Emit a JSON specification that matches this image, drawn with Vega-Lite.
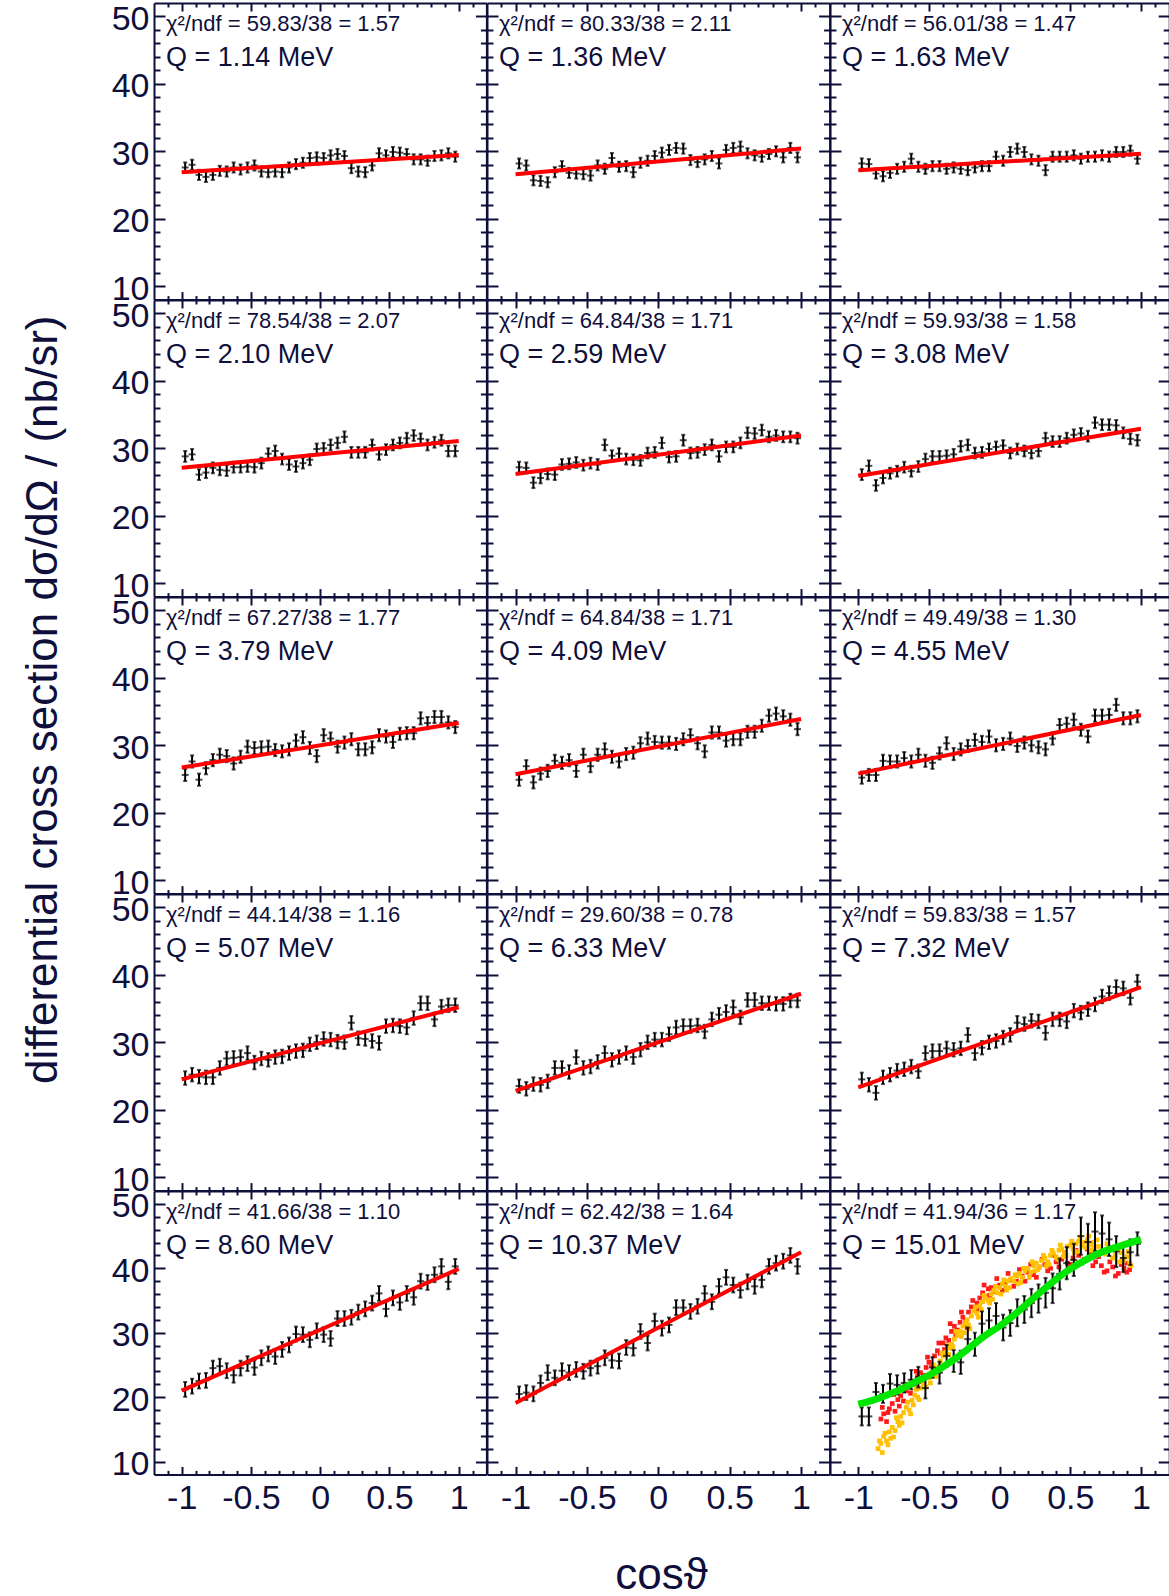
{
"$schema":"https://vega.github.io/schema/vega-lite/v6.json",
"background":"white",
"padding":{"left":22,"top":2,"right":0,"bottom":0},
"title":{"text":"differential cross section dσ/dΩ / (nb/sr)","orient":"left","anchor":"middle","frame":"bounds","offset":45,"dx":100,"fontSize":44,"fontWeight":"normal","color":"#0f0f3c","font":"Liberation Sans"},
"config":{
"view":{"stroke":null},
"font":"Liberation Sans",
"axis":{"domainColor":"#0f0f3c","domainWidth":2,"tickColor":"#0f0f3c","tickWidth":2,"labelColor":"#0f0f3c","labelFont":"Liberation Sans","labelFontSize":34,"grid":false,"labelFlush":false,"labelOverlap":false,"titleColor":"#0f0f3c","titleFont":"Liberation Sans","titleFontSize":44,"titleFontWeight":"normal"},
"axisX":{"tickSize":-8},
"axisY":{"tickSize":-11},
"axisBottom":{"labelPadding":15,"labelBaseline":"top"},
"axisLeft":{"labelPadding":16,"labelBaseline":"middle","labelOffset":3},
"title":{"anchor":"start","frame":"group","font":"Liberation Sans","fontSize":22,"fontWeight":"normal","color":"#0f0f3c","subtitleFont":"Liberation Sans","subtitleFontSize":27,"subtitleColor":"#0f0f3c","subtitlePadding":9,"offset":-70,"dx":12}
},
"datasets":{
"fit":[
{"p":1,"x":-1,"y":26.9},{"p":1,"x":1,"y":29.45},
{"p":2,"x":-1,"y":26.6},{"p":2,"x":1,"y":30.4},
{"p":3,"x":-1,"y":27.2},{"p":3,"x":1,"y":29.65},
{"p":4,"x":-1,"y":27.1},{"p":4,"x":1,"y":31.1},
{"p":5,"x":-1,"y":26.2},{"p":5,"x":1,"y":31.9},
{"p":6,"x":-1,"y":25.9},{"p":6,"x":1,"y":32.9},
{"p":7,"x":-1,"y":26.7},{"p":7,"x":1,"y":33.3},
{"p":8,"x":-1,"y":25.7},{"p":8,"x":1,"y":33.9},
{"p":9,"x":-1,"y":25.8},{"p":9,"x":1,"y":34.5},
{"p":10,"x":-1,"y":24.5},{"p":10,"x":1,"y":35.2},
{"p":11,"x":-1,"y":22.8},{"p":11,"x":1,"y":37.2},
{"p":12,"x":-1,"y":23.3},{"p":12,"x":1,"y":38.2},
{"p":13,"x":-1,"y":21.0},{"p":13,"x":1,"y":39.9},
{"p":14,"x":-1,"y":19.1},{"p":14,"x":1,"y":42.5}
],
"curve":[
{"x":-1.0,"y":18.9},{"x":-0.9,"y":19.5},{"x":-0.8,"y":20.3},{"x":-0.7,"y":21.2},{"x":-0.6,"y":22.3},{"x":-0.5,"y":23.4},{"x":-0.4,"y":24.7},{"x":-0.3,"y":26.2},{"x":-0.2,"y":27.9},{"x":-0.1,"y":29.6},{"x":0.0,"y":31.0},{"x":0.1,"y":32.7},{"x":0.2,"y":34.6},{"x":0.3,"y":36.5},{"x":0.4,"y":38.3},{"x":0.5,"y":39.9},{"x":0.6,"y":41.2},{"x":0.7,"y":42.3},{"x":0.8,"y":43.1},{"x":0.9,"y":43.8},{"x":1.0,"y":44.5}
],
"sim":[
{"g":"r","x":-0.84,"y":16.6},{"g":"r","x":-0.82,"y":17.4},{"g":"r","x":-0.8,"y":16.2},{"g":"r","x":-0.78,"y":18.2},{"g":"r","x":-0.76,"y":19.0},{"g":"r","x":-0.74,"y":17.8},{"g":"r","x":-0.72,"y":19.6},{"g":"r","x":-0.7,"y":20.2},{"g":"r","x":-0.68,"y":19.4},{"g":"r","x":-0.66,"y":21.0},{"g":"r","x":-0.64,"y":21.6},{"g":"r","x":-0.62,"y":22.4},{"g":"r","x":-0.6,"y":22.0},{"g":"r","x":-0.58,"y":23.2},{"g":"r","x":-0.56,"y":23.8},{"g":"r","x":-0.54,"y":23.4},{"g":"r","x":-0.52,"y":24.6},{"g":"r","x":-0.5,"y":25.4},{"g":"r","x":-0.48,"y":25.0},{"g":"r","x":-0.46,"y":26.4},{"g":"r","x":-0.44,"y":27.2},{"g":"r","x":-0.42,"y":26.8},{"g":"r","x":-0.4,"y":28.4},{"g":"r","x":-0.38,"y":29.2},{"g":"r","x":-0.36,"y":28.8},{"g":"r","x":-0.34,"y":30.2},{"g":"r","x":-0.32,"y":31.0},{"g":"r","x":-0.3,"y":30.4},{"g":"r","x":-0.28,"y":31.6},{"g":"r","x":-0.26,"y":32.4},{"g":"r","x":-0.24,"y":31.8},{"g":"r","x":-0.22,"y":33.2},{"g":"r","x":-0.2,"y":34.0},{"g":"r","x":-0.18,"y":33.4},{"g":"r","x":-0.16,"y":34.6},{"g":"r","x":-0.14,"y":35.4},{"g":"r","x":-0.12,"y":36.2},{"g":"r","x":-0.1,"y":35.6},{"g":"r","x":-0.08,"y":36.8},{"g":"r","x":-0.06,"y":37.0},{"g":"r","x":-0.04,"y":36.4},{"g":"r","x":0.0,"y":37.4},{"g":"r","x":0.04,"y":37.8},{"g":"r","x":0.08,"y":38.2},{"g":"r","x":0.12,"y":38.0},{"g":"r","x":0.16,"y":38.8},{"g":"r","x":0.2,"y":39.4},{"g":"r","x":0.24,"y":39.0},{"g":"r","x":0.28,"y":40.2},{"g":"r","x":0.32,"y":40.6},{"g":"r","x":0.36,"y":40.0},{"g":"r","x":0.4,"y":41.0},{"g":"r","x":0.44,"y":41.4},{"g":"r","x":0.48,"y":40.8},{"g":"r","x":0.52,"y":41.6},{"g":"r","x":0.56,"y":42.0},{"g":"r","x":0.6,"y":41.4},{"g":"r","x":0.64,"y":42.2},{"g":"r","x":0.68,"y":41.0},{"g":"r","x":0.72,"y":40.4},{"g":"r","x":0.76,"y":39.6},{"g":"r","x":0.8,"y":40.2},{"g":"r","x":0.84,"y":39.2},{"g":"r","x":0.88,"y":40.0},{"g":"r","x":0.9,"y":39.4},
{"g":"r","x":-0.83,"y":18.4},{"g":"r","x":-0.79,"y":17.6},{"g":"r","x":-0.75,"y":20.4},{"g":"r","x":-0.71,"y":18.6},{"g":"r","x":-0.67,"y":21.8},{"g":"r","x":-0.63,"y":20.6},{"g":"r","x":-0.59,"y":24.0},{"g":"r","x":-0.55,"y":22.4},{"g":"r","x":-0.51,"y":26.2},{"g":"r","x":-0.47,"y":24.2},{"g":"r","x":-0.43,"y":28.4},{"g":"r","x":-0.39,"y":27.4},{"g":"r","x":-0.35,"y":31.4},{"g":"r","x":-0.31,"y":29.6},{"g":"r","x":-0.27,"y":33.2},{"g":"r","x":-0.23,"y":30.8},{"g":"r","x":-0.19,"y":35.0},{"g":"r","x":-0.15,"y":33.6},{"g":"r","x":-0.11,"y":37.4},{"g":"r","x":-0.07,"y":35.8},{"g":"r","x":-0.02,"y":38.4},{"g":"r","x":0.02,"y":36.6},{"g":"r","x":0.06,"y":39.2},{"g":"r","x":0.1,"y":37.2},{"g":"r","x":0.14,"y":39.8},{"g":"r","x":0.18,"y":38.0},{"g":"r","x":0.22,"y":40.6},{"g":"r","x":0.26,"y":38.6},{"g":"r","x":0.3,"y":41.4},{"g":"r","x":0.34,"y":39.6},{"g":"r","x":0.38,"y":42.0},{"g":"r","x":0.42,"y":40.2},{"g":"r","x":0.46,"y":42.4},{"g":"r","x":0.5,"y":40.6},{"g":"r","x":0.54,"y":42.8},{"g":"r","x":0.58,"y":40.8},{"g":"r","x":0.62,"y":43.0},{"g":"r","x":0.66,"y":40.4},{"g":"r","x":0.7,"y":41.8},{"g":"r","x":0.74,"y":39.4},{"g":"r","x":0.78,"y":41.0},{"g":"r","x":0.82,"y":38.8},{"g":"r","x":0.86,"y":40.6},{"g":"r","x":0.9,"y":40.8},{"g":"r","x":0.92,"y":39.8},
{"g":"o","x":-0.86,"y":12.0},{"g":"o","x":-0.84,"y":12.8},{"g":"o","x":-0.83,"y":11.4},{"g":"o","x":-0.82,"y":13.9},{"g":"o","x":-0.8,"y":13.2},{"g":"o","x":-0.79,"y":12.6},{"g":"o","x":-0.78,"y":14.6},{"g":"o","x":-0.76,"y":15.3},{"g":"o","x":-0.75,"y":13.8},{"g":"o","x":-0.74,"y":14.8},{"g":"o","x":-0.72,"y":16.2},{"g":"o","x":-0.71,"y":15.6},{"g":"o","x":-0.7,"y":17.0},{"g":"o","x":-0.68,"y":17.6},{"g":"o","x":-0.66,"y":18.4},{"g":"o","x":-0.64,"y":18.0},{"g":"o","x":-0.62,"y":19.5},{"g":"o","x":-0.61,"y":18.8},{"g":"o","x":-0.6,"y":20.3},{"g":"o","x":-0.58,"y":20.0},{"g":"o","x":-0.56,"y":21.4},{"g":"o","x":-0.54,"y":22.0},{"g":"o","x":-0.52,"y":21.6},{"g":"o","x":-0.5,"y":23.0},{"g":"o","x":-0.48,"y":23.8},{"g":"o","x":-0.46,"y":24.4},{"g":"o","x":-0.45,"y":23.2},{"g":"o","x":-0.44,"y":24.0},{"g":"o","x":-0.42,"y":25.6},{"g":"o","x":-0.4,"y":26.4},{"g":"o","x":-0.38,"y":27.0},{"g":"o","x":-0.36,"y":26.6},{"g":"o","x":-0.35,"y":27.6},{"g":"o","x":-0.34,"y":28.2},{"g":"o","x":-0.32,"y":29.0},{"g":"o","x":-0.3,"y":29.6},{"g":"o","x":-0.28,"y":30.2},{"g":"o","x":-0.26,"y":31.0},{"g":"o","x":-0.25,"y":30.0},{"g":"o","x":-0.24,"y":31.6},{"g":"o","x":-0.22,"y":31.2},{"g":"o","x":-0.2,"y":32.6},{"g":"o","x":-0.18,"y":33.4},{"g":"o","x":-0.16,"y":33.0},{"g":"o","x":-0.15,"y":32.4},{"g":"o","x":-0.14,"y":34.2},{"g":"o","x":-0.12,"y":34.8},{"g":"o","x":-0.1,"y":35.4},{"g":"o","x":-0.08,"y":35.0},{"g":"o","x":-0.06,"y":36.0},{"g":"o","x":-0.05,"y":35.2},{"g":"o","x":-0.04,"y":36.6},{"g":"o","x":-0.02,"y":36.2},{"g":"o","x":0.0,"y":37.0},{"g":"o","x":0.02,"y":37.6},{"g":"o","x":0.04,"y":37.2},{"g":"o","x":0.05,"y":36.6},{"g":"o","x":0.06,"y":38.0},{"g":"o","x":0.08,"y":38.4},{"g":"o","x":0.1,"y":38.0},{"g":"o","x":0.12,"y":38.8},{"g":"o","x":0.14,"y":39.2},{"g":"o","x":0.15,"y":37.8},{"g":"o","x":0.16,"y":38.6},{"g":"o","x":0.18,"y":39.6},{"g":"o","x":0.2,"y":40.0},{"g":"o","x":0.22,"y":39.4},{"g":"o","x":0.24,"y":40.4},{"g":"o","x":0.25,"y":39.6},{"g":"o","x":0.26,"y":40.8},{"g":"o","x":0.28,"y":40.2},{"g":"o","x":0.3,"y":41.2},{"g":"o","x":0.32,"y":41.6},{"g":"o","x":0.34,"y":41.0},{"g":"o","x":0.35,"y":40.6},{"g":"o","x":0.36,"y":42.0},{"g":"o","x":0.38,"y":42.4},{"g":"o","x":0.4,"y":41.8},{"g":"o","x":0.42,"y":42.8},{"g":"o","x":0.44,"y":43.0},{"g":"o","x":0.45,"y":41.8},{"g":"o","x":0.46,"y":42.4},{"g":"o","x":0.48,"y":43.4},{"g":"o","x":0.5,"y":43.6},{"g":"o","x":0.52,"y":43.0},{"g":"o","x":0.54,"y":43.8},{"g":"o","x":0.55,"y":42.6},{"g":"o","x":0.56,"y":44.2},{"g":"o","x":0.58,"y":43.4},{"g":"o","x":0.6,"y":44.0},{"g":"o","x":0.62,"y":44.4},{"g":"o","x":0.64,"y":43.6},{"g":"o","x":0.65,"y":42.8},{"g":"o","x":0.66,"y":44.0},{"g":"o","x":0.7,"y":43.4},{"g":"o","x":0.74,"y":42.8},{"g":"o","x":0.75,"y":42.2},{"g":"o","x":0.78,"y":43.2},{"g":"o","x":0.82,"y":42.0},{"g":"o","x":0.85,"y":41.0},{"g":"o","x":0.86,"y":42.4},{"g":"o","x":0.88,"y":41.2},{"g":"o","x":0.9,"y":41.8},{"g":"o","x":0.92,"y":40.8},
{"g":"o","x":-0.85,"y":13.2},{"g":"o","x":-0.81,"y":14.4},{"g":"o","x":-0.77,"y":13.6},{"g":"o","x":-0.73,"y":16.8},{"g":"o","x":-0.69,"y":16.0},{"g":"o","x":-0.65,"y":19.2},{"g":"o","x":-0.63,"y":17.4},{"g":"o","x":-0.59,"y":21.2},{"g":"o","x":-0.57,"y":19.6},{"g":"o","x":-0.53,"y":23.0},{"g":"o","x":-0.49,"y":22.2},{"g":"o","x":-0.47,"y":25.0},{"g":"o","x":-0.43,"y":24.8},{"g":"o","x":-0.41,"y":26.8},{"g":"o","x":-0.37,"y":28.0},{"g":"o","x":-0.33,"y":27.8},{"g":"o","x":-0.31,"y":30.2},{"g":"o","x":-0.27,"y":29.4},{"g":"o","x":-0.23,"y":32.0},{"g":"o","x":-0.21,"y":30.6},{"g":"o","x":-0.17,"y":34.0},{"g":"o","x":-0.13,"y":33.6},{"g":"o","x":-0.11,"y":35.8},{"g":"o","x":-0.07,"y":34.6},{"g":"o","x":-0.03,"y":37.2},{"g":"o","x":0.01,"y":36.0},{"g":"o","x":0.03,"y":38.2},{"g":"o","x":0.07,"y":37.0},{"g":"o","x":0.11,"y":39.0},{"g":"o","x":0.13,"y":37.6},{"g":"o","x":0.17,"y":40.0},{"g":"o","x":0.21,"y":38.6},{"g":"o","x":0.23,"y":41.0},{"g":"o","x":0.27,"y":39.8},{"g":"o","x":0.31,"y":42.0},{"g":"o","x":0.33,"y":40.4},{"g":"o","x":0.37,"y":42.8},{"g":"o","x":0.41,"y":41.4},{"g":"o","x":0.43,"y":43.6},{"g":"o","x":0.47,"y":42.0},{"g":"o","x":0.51,"y":44.2},{"g":"o","x":0.53,"y":42.4},{"g":"o","x":0.57,"y":44.8},{"g":"o","x":0.61,"y":43.2},{"g":"o","x":0.63,"y":45.0},{"g":"o","x":0.67,"y":43.2},{"g":"o","x":0.69,"y":44.4},{"g":"o","x":0.72,"y":42.4},{"g":"o","x":0.76,"y":43.8},{"g":"o","x":0.8,"y":41.6},{"g":"o","x":0.84,"y":43.0},{"g":"o","x":0.87,"y":41.4},{"g":"o","x":0.91,"y":42.6},{"g":"o","x":0.93,"y":40.4}
],
"pts":[
{"p":1,"x":-0.975,"y":27.6,"e":0.75},{"p":1,"x":-0.925,"y":28.0,"e":0.75},{"p":1,"x":-0.875,"y":26.5,"e":0.75},{"p":1,"x":-0.825,"y":26.2,"e":0.75},{"p":1,"x":-0.775,"y":26.5,"e":0.75},{"p":1,"x":-0.725,"y":27.1,"e":0.75},{"p":1,"x":-0.675,"y":27.0,"e":0.75},{"p":1,"x":-0.625,"y":27.6,"e":0.75},{"p":1,"x":-0.575,"y":27.3,"e":0.75},{"p":1,"x":-0.525,"y":27.6,"e":0.75},{"p":1,"x":-0.475,"y":27.9,"e":0.75},{"p":1,"x":-0.425,"y":27.0,"e":0.75},{"p":1,"x":-0.375,"y":26.9,"e":0.75},{"p":1,"x":-0.325,"y":27.0,"e":0.75},{"p":1,"x":-0.275,"y":26.9,"e":0.75},{"p":1,"x":-0.225,"y":27.6,"e":0.75},{"p":1,"x":-0.175,"y":28.1,"e":0.75},{"p":1,"x":-0.125,"y":28.3,"e":0.75},{"p":1,"x":-0.075,"y":29.0,"e":0.75},{"p":1,"x":-0.025,"y":29.1,"e":0.75},{"p":1,"x":0.025,"y":29.0,"e":0.75},{"p":1,"x":0.075,"y":29.4,"e":0.75},{"p":1,"x":0.125,"y":29.6,"e":0.75},{"p":1,"x":0.175,"y":29.3,"e":0.75},{"p":1,"x":0.225,"y":27.5,"e":0.75},{"p":1,"x":0.275,"y":27.0,"e":0.75},{"p":1,"x":0.325,"y":26.9,"e":0.75},{"p":1,"x":0.375,"y":27.9,"e":0.75},{"p":1,"x":0.425,"y":29.7,"e":0.75},{"p":1,"x":0.475,"y":29.4,"e":0.75},{"p":1,"x":0.525,"y":29.9,"e":0.75},{"p":1,"x":0.575,"y":29.8,"e":0.75},{"p":1,"x":0.625,"y":29.6,"e":0.75},{"p":1,"x":0.675,"y":28.8,"e":0.75},{"p":1,"x":0.725,"y":28.8,"e":0.75},{"p":1,"x":0.775,"y":28.6,"e":0.75},{"p":1,"x":0.825,"y":29.3,"e":0.75},{"p":1,"x":0.875,"y":29.4,"e":0.75},{"p":1,"x":0.925,"y":29.7,"e":0.75},{"p":1,"x":0.975,"y":29.2,"e":0.75},
{"p":2,"x":-0.975,"y":28.2,"e":0.75},{"p":2,"x":-0.925,"y":27.9,"e":0.75},{"p":2,"x":-0.875,"y":25.7,"e":0.75},{"p":2,"x":-0.825,"y":25.6,"e":0.75},{"p":2,"x":-0.775,"y":25.4,"e":0.75},{"p":2,"x":-0.725,"y":26.9,"e":0.75},{"p":2,"x":-0.675,"y":27.8,"e":0.75},{"p":2,"x":-0.625,"y":26.8,"e":0.75},{"p":2,"x":-0.575,"y":26.7,"e":0.75},{"p":2,"x":-0.525,"y":26.6,"e":0.75},{"p":2,"x":-0.475,"y":26.4,"e":0.75},{"p":2,"x":-0.425,"y":27.9,"e":0.75},{"p":2,"x":-0.375,"y":27.4,"e":0.75},{"p":2,"x":-0.325,"y":29.0,"e":0.75},{"p":2,"x":-0.275,"y":27.7,"e":0.75},{"p":2,"x":-0.225,"y":27.8,"e":0.75},{"p":2,"x":-0.175,"y":26.9,"e":0.75},{"p":2,"x":-0.125,"y":28.3,"e":0.75},{"p":2,"x":-0.075,"y":28.6,"e":0.75},{"p":2,"x":-0.025,"y":29.3,"e":0.75},{"p":2,"x":0.025,"y":29.8,"e":0.75},{"p":2,"x":0.075,"y":30.2,"e":0.75},{"p":2,"x":0.125,"y":30.5,"e":0.75},{"p":2,"x":0.175,"y":30.4,"e":0.75},{"p":2,"x":0.225,"y":28.7,"e":0.75},{"p":2,"x":0.275,"y":28.4,"e":0.75},{"p":2,"x":0.325,"y":28.8,"e":0.75},{"p":2,"x":0.375,"y":29.3,"e":0.75},{"p":2,"x":0.425,"y":28.2,"e":0.75},{"p":2,"x":0.475,"y":30.2,"e":0.75},{"p":2,"x":0.525,"y":30.5,"e":0.75},{"p":2,"x":0.575,"y":30.7,"e":0.75},{"p":2,"x":0.625,"y":29.7,"e":0.75},{"p":2,"x":0.675,"y":29.4,"e":0.75},{"p":2,"x":0.725,"y":29.2,"e":0.75},{"p":2,"x":0.775,"y":29.6,"e":0.75},{"p":2,"x":0.825,"y":30.0,"e":0.75},{"p":2,"x":0.875,"y":29.1,"e":0.75},{"p":2,"x":0.925,"y":30.5,"e":0.75},{"p":2,"x":0.975,"y":29.1,"e":0.75},
{"p":3,"x":-0.975,"y":28.2,"e":0.75},{"p":3,"x":-0.925,"y":28.1,"e":0.75},{"p":3,"x":-0.875,"y":26.7,"e":0.75},{"p":3,"x":-0.825,"y":26.3,"e":0.75},{"p":3,"x":-0.775,"y":26.8,"e":0.75},{"p":3,"x":-0.725,"y":27.4,"e":0.75},{"p":3,"x":-0.675,"y":27.7,"e":0.75},{"p":3,"x":-0.625,"y":28.9,"e":0.75},{"p":3,"x":-0.575,"y":27.7,"e":0.75},{"p":3,"x":-0.525,"y":27.4,"e":0.75},{"p":3,"x":-0.475,"y":27.8,"e":0.75},{"p":3,"x":-0.425,"y":27.8,"e":0.75},{"p":3,"x":-0.375,"y":27.4,"e":0.75},{"p":3,"x":-0.325,"y":27.6,"e":0.75},{"p":3,"x":-0.275,"y":27.4,"e":0.75},{"p":3,"x":-0.225,"y":27.2,"e":0.75},{"p":3,"x":-0.175,"y":27.6,"e":0.75},{"p":3,"x":-0.125,"y":27.8,"e":0.75},{"p":3,"x":-0.075,"y":27.8,"e":0.75},{"p":3,"x":-0.025,"y":29.2,"e":0.75},{"p":3,"x":0.025,"y":28.6,"e":0.75},{"p":3,"x":0.075,"y":29.9,"e":0.75},{"p":3,"x":0.125,"y":30.4,"e":0.75},{"p":3,"x":0.175,"y":29.9,"e":0.75},{"p":3,"x":0.225,"y":28.8,"e":0.75},{"p":3,"x":0.275,"y":28.6,"e":0.75},{"p":3,"x":0.325,"y":27.2,"e":0.75},{"p":3,"x":0.375,"y":29.2,"e":0.75},{"p":3,"x":0.425,"y":29.2,"e":0.75},{"p":3,"x":0.475,"y":29.2,"e":0.75},{"p":3,"x":0.525,"y":29.4,"e":0.75},{"p":3,"x":0.575,"y":28.9,"e":0.75},{"p":3,"x":0.625,"y":29.2,"e":0.75},{"p":3,"x":0.675,"y":29.2,"e":0.75},{"p":3,"x":0.725,"y":29.4,"e":0.75},{"p":3,"x":0.775,"y":29.2,"e":0.75},{"p":3,"x":0.825,"y":29.9,"e":0.75},{"p":3,"x":0.875,"y":29.9,"e":0.75},{"p":3,"x":0.925,"y":30.1,"e":0.75},{"p":3,"x":0.975,"y":28.9,"e":0.75},
{"p":4,"x":-0.975,"y":28.8,"e":0.8},{"p":4,"x":-0.925,"y":29.1,"e":0.8},{"p":4,"x":-0.875,"y":26.1,"e":0.8},{"p":4,"x":-0.825,"y":26.4,"e":0.8},{"p":4,"x":-0.775,"y":27.1,"e":0.8},{"p":4,"x":-0.725,"y":26.8,"e":0.8},{"p":4,"x":-0.675,"y":26.7,"e":0.8},{"p":4,"x":-0.625,"y":27.2,"e":0.8},{"p":4,"x":-0.575,"y":27.2,"e":0.8},{"p":4,"x":-0.525,"y":27.3,"e":0.8},{"p":4,"x":-0.475,"y":27.2,"e":0.8},{"p":4,"x":-0.425,"y":27.8,"e":0.8},{"p":4,"x":-0.375,"y":29.2,"e":0.8},{"p":4,"x":-0.325,"y":29.6,"e":0.8},{"p":4,"x":-0.275,"y":28.4,"e":0.8},{"p":4,"x":-0.225,"y":27.6,"e":0.8},{"p":4,"x":-0.175,"y":27.3,"e":0.8},{"p":4,"x":-0.125,"y":27.8,"e":0.8},{"p":4,"x":-0.075,"y":28.3,"e":0.8},{"p":4,"x":-0.025,"y":29.9,"e":0.8},{"p":4,"x":0.025,"y":30.0,"e":0.8},{"p":4,"x":0.075,"y":30.5,"e":0.8},{"p":4,"x":0.125,"y":30.8,"e":0.8},{"p":4,"x":0.175,"y":31.7,"e":0.8},{"p":4,"x":0.225,"y":29.4,"e":0.8},{"p":4,"x":0.275,"y":29.4,"e":0.8},{"p":4,"x":0.325,"y":29.4,"e":0.8},{"p":4,"x":0.375,"y":30.5,"e":0.8},{"p":4,"x":0.425,"y":29.1,"e":0.8},{"p":4,"x":0.475,"y":29.8,"e":0.8},{"p":4,"x":0.525,"y":30.5,"e":0.8},{"p":4,"x":0.575,"y":30.8,"e":0.8},{"p":4,"x":0.625,"y":31.5,"e":0.8},{"p":4,"x":0.675,"y":31.9,"e":0.8},{"p":4,"x":0.725,"y":31.4,"e":0.8},{"p":4,"x":0.775,"y":30.5,"e":0.8},{"p":4,"x":0.825,"y":30.9,"e":0.8},{"p":4,"x":0.875,"y":31.2,"e":0.8},{"p":4,"x":0.925,"y":29.6,"e":0.8},{"p":4,"x":0.975,"y":29.6,"e":0.8},
{"p":5,"x":-0.975,"y":27.2,"e":0.8},{"p":5,"x":-0.925,"y":27.1,"e":0.8},{"p":5,"x":-0.875,"y":24.9,"e":0.8},{"p":5,"x":-0.825,"y":25.6,"e":0.8},{"p":5,"x":-0.775,"y":26.2,"e":0.8},{"p":5,"x":-0.725,"y":26.1,"e":0.8},{"p":5,"x":-0.675,"y":27.6,"e":0.8},{"p":5,"x":-0.625,"y":27.7,"e":0.8},{"p":5,"x":-0.575,"y":27.9,"e":0.8},{"p":5,"x":-0.525,"y":27.5,"e":0.8},{"p":5,"x":-0.475,"y":27.8,"e":0.8},{"p":5,"x":-0.425,"y":27.6,"e":0.8},{"p":5,"x":-0.375,"y":30.5,"e":0.8},{"p":5,"x":-0.325,"y":28.9,"e":0.8},{"p":5,"x":-0.275,"y":29.2,"e":0.8},{"p":5,"x":-0.225,"y":28.4,"e":0.8},{"p":5,"x":-0.175,"y":28.3,"e":0.8},{"p":5,"x":-0.125,"y":28.2,"e":0.8},{"p":5,"x":-0.075,"y":29.3,"e":0.8},{"p":5,"x":-0.025,"y":29.4,"e":0.8},{"p":5,"x":0.025,"y":30.8,"e":0.8},{"p":5,"x":0.075,"y":28.7,"e":0.8},{"p":5,"x":0.125,"y":28.8,"e":0.8},{"p":5,"x":0.175,"y":31.2,"e":0.8},{"p":5,"x":0.225,"y":29.3,"e":0.8},{"p":5,"x":0.275,"y":29.4,"e":0.8},{"p":5,"x":0.325,"y":29.8,"e":0.8},{"p":5,"x":0.375,"y":30.5,"e":0.8},{"p":5,"x":0.425,"y":28.8,"e":0.8},{"p":5,"x":0.475,"y":30.2,"e":0.8},{"p":5,"x":0.525,"y":30.2,"e":0.8},{"p":5,"x":0.575,"y":30.8,"e":0.8},{"p":5,"x":0.625,"y":32.3,"e":0.8},{"p":5,"x":0.675,"y":32.2,"e":0.8},{"p":5,"x":0.725,"y":32.7,"e":0.8},{"p":5,"x":0.775,"y":31.7,"e":0.8},{"p":5,"x":0.825,"y":31.9,"e":0.8},{"p":5,"x":0.875,"y":31.7,"e":0.8},{"p":5,"x":0.925,"y":31.7,"e":0.8},{"p":5,"x":0.975,"y":31.5,"e":0.8},
{"p":6,"x":-0.975,"y":26.1,"e":0.8},{"p":6,"x":-0.925,"y":27.4,"e":0.8},{"p":6,"x":-0.875,"y":24.5,"e":0.8},{"p":6,"x":-0.825,"y":25.6,"e":0.8},{"p":6,"x":-0.775,"y":26.3,"e":0.8},{"p":6,"x":-0.725,"y":26.6,"e":0.8},{"p":6,"x":-0.675,"y":27.2,"e":0.8},{"p":6,"x":-0.625,"y":26.6,"e":0.8},{"p":6,"x":-0.575,"y":27.3,"e":0.8},{"p":6,"x":-0.525,"y":28.4,"e":0.8},{"p":6,"x":-0.475,"y":28.8,"e":0.8},{"p":6,"x":-0.425,"y":28.8,"e":0.8},{"p":6,"x":-0.375,"y":28.9,"e":0.8},{"p":6,"x":-0.325,"y":29.1,"e":0.8},{"p":6,"x":-0.275,"y":30.3,"e":0.8},{"p":6,"x":-0.225,"y":30.5,"e":0.8},{"p":6,"x":-0.175,"y":29.3,"e":0.8},{"p":6,"x":-0.125,"y":29.4,"e":0.8},{"p":6,"x":-0.075,"y":29.9,"e":0.8},{"p":6,"x":-0.025,"y":30.2,"e":0.8},{"p":6,"x":0.025,"y":30.4,"e":0.8},{"p":6,"x":0.075,"y":29.3,"e":0.8},{"p":6,"x":0.125,"y":29.9,"e":0.8},{"p":6,"x":0.175,"y":29.6,"e":0.8},{"p":6,"x":0.225,"y":29.3,"e":0.8},{"p":6,"x":0.275,"y":29.6,"e":0.8},{"p":6,"x":0.325,"y":31.5,"e":0.8},{"p":6,"x":0.375,"y":31.0,"e":0.8},{"p":6,"x":0.425,"y":31.0,"e":0.8},{"p":6,"x":0.475,"y":31.5,"e":0.8},{"p":6,"x":0.525,"y":32.0,"e":0.8},{"p":6,"x":0.575,"y":32.2,"e":0.8},{"p":6,"x":0.625,"y":31.8,"e":0.8},{"p":6,"x":0.675,"y":33.8,"e":0.8},{"p":6,"x":0.725,"y":33.5,"e":0.8},{"p":6,"x":0.775,"y":33.5,"e":0.8},{"p":6,"x":0.825,"y":33.4,"e":0.8},{"p":6,"x":0.875,"y":32.3,"e":0.8},{"p":6,"x":0.925,"y":31.4,"e":0.8},{"p":6,"x":0.975,"y":31.2,"e":0.8},
{"p":7,"x":-0.975,"y":25.6,"e":0.9},{"p":7,"x":-0.925,"y":27.6,"e":0.9},{"p":7,"x":-0.875,"y":24.9,"e":0.9},{"p":7,"x":-0.825,"y":26.6,"e":0.9},{"p":7,"x":-0.775,"y":27.8,"e":0.9},{"p":7,"x":-0.725,"y":28.6,"e":0.9},{"p":7,"x":-0.675,"y":28.4,"e":0.9},{"p":7,"x":-0.625,"y":27.3,"e":0.9},{"p":7,"x":-0.575,"y":28.3,"e":0.9},{"p":7,"x":-0.525,"y":29.8,"e":0.9},{"p":7,"x":-0.475,"y":29.6,"e":0.9},{"p":7,"x":-0.425,"y":29.7,"e":0.9},{"p":7,"x":-0.375,"y":29.8,"e":0.9},{"p":7,"x":-0.325,"y":29.3,"e":0.9},{"p":7,"x":-0.275,"y":29.1,"e":0.9},{"p":7,"x":-0.225,"y":29.4,"e":0.9},{"p":7,"x":-0.175,"y":30.7,"e":0.9},{"p":7,"x":-0.125,"y":31.2,"e":0.9},{"p":7,"x":-0.075,"y":29.6,"e":0.9},{"p":7,"x":-0.025,"y":28.4,"e":0.9},{"p":7,"x":0.025,"y":31.5,"e":0.9},{"p":7,"x":0.075,"y":31.0,"e":0.9},{"p":7,"x":0.125,"y":29.8,"e":0.9},{"p":7,"x":0.175,"y":30.4,"e":0.9},{"p":7,"x":0.225,"y":30.9,"e":0.9},{"p":7,"x":0.275,"y":29.4,"e":0.9},{"p":7,"x":0.325,"y":29.4,"e":0.9},{"p":7,"x":0.375,"y":29.7,"e":0.9},{"p":7,"x":0.425,"y":31.5,"e":0.9},{"p":7,"x":0.475,"y":31.3,"e":0.9},{"p":7,"x":0.525,"y":30.5,"e":0.9},{"p":7,"x":0.575,"y":31.7,"e":0.9},{"p":7,"x":0.625,"y":31.8,"e":0.9},{"p":7,"x":0.675,"y":31.8,"e":0.9},{"p":7,"x":0.725,"y":34.0,"e":0.9},{"p":7,"x":0.775,"y":33.3,"e":0.9},{"p":7,"x":0.825,"y":34.2,"e":0.9},{"p":7,"x":0.875,"y":34.2,"e":0.9},{"p":7,"x":0.925,"y":33.4,"e":0.9},{"p":7,"x":0.975,"y":32.7,"e":0.9},
{"p":8,"x":-0.975,"y":24.9,"e":0.9},{"p":8,"x":-0.925,"y":26.9,"e":0.9},{"p":8,"x":-0.875,"y":24.5,"e":0.9},{"p":8,"x":-0.825,"y":25.8,"e":0.9},{"p":8,"x":-0.775,"y":26.2,"e":0.9},{"p":8,"x":-0.725,"y":27.7,"e":0.9},{"p":8,"x":-0.675,"y":27.4,"e":0.9},{"p":8,"x":-0.625,"y":27.8,"e":0.9},{"p":8,"x":-0.575,"y":26.2,"e":0.9},{"p":8,"x":-0.525,"y":28.6,"e":0.9},{"p":8,"x":-0.475,"y":26.9,"e":0.9},{"p":8,"x":-0.425,"y":28.6,"e":0.9},{"p":8,"x":-0.375,"y":29.4,"e":0.9},{"p":8,"x":-0.325,"y":28.3,"e":0.9},{"p":8,"x":-0.275,"y":27.6,"e":0.9},{"p":8,"x":-0.225,"y":28.7,"e":0.9},{"p":8,"x":-0.175,"y":28.9,"e":0.9},{"p":8,"x":-0.125,"y":30.3,"e":0.9},{"p":8,"x":-0.075,"y":31.0,"e":0.9},{"p":8,"x":-0.025,"y":30.5,"e":0.9},{"p":8,"x":0.025,"y":30.4,"e":0.9},{"p":8,"x":0.075,"y":30.4,"e":0.9},{"p":8,"x":0.125,"y":30.2,"e":0.9},{"p":8,"x":0.175,"y":30.9,"e":0.9},{"p":8,"x":0.225,"y":31.5,"e":0.9},{"p":8,"x":0.275,"y":30.3,"e":0.9},{"p":8,"x":0.325,"y":29.1,"e":0.9},{"p":8,"x":0.375,"y":31.9,"e":0.9},{"p":8,"x":0.425,"y":31.9,"e":0.9},{"p":8,"x":0.475,"y":30.7,"e":0.9},{"p":8,"x":0.525,"y":30.9,"e":0.9},{"p":8,"x":0.575,"y":30.9,"e":0.9},{"p":8,"x":0.625,"y":32.0,"e":0.9},{"p":8,"x":0.675,"y":32.0,"e":0.9},{"p":8,"x":0.725,"y":32.9,"e":0.9},{"p":8,"x":0.775,"y":34.4,"e":0.9},{"p":8,"x":0.825,"y":34.7,"e":0.9},{"p":8,"x":0.875,"y":34.3,"e":0.9},{"p":8,"x":0.925,"y":33.8,"e":0.9},{"p":8,"x":0.975,"y":32.4,"e":0.9},
{"p":9,"x":-0.975,"y":25.2,"e":0.9},{"p":9,"x":-0.925,"y":25.6,"e":0.9},{"p":9,"x":-0.875,"y":25.6,"e":0.9},{"p":9,"x":-0.825,"y":27.7,"e":0.9},{"p":9,"x":-0.775,"y":27.6,"e":0.9},{"p":9,"x":-0.725,"y":27.6,"e":0.9},{"p":9,"x":-0.675,"y":28.1,"e":0.9},{"p":9,"x":-0.625,"y":27.6,"e":0.9},{"p":9,"x":-0.575,"y":28.6,"e":0.9},{"p":9,"x":-0.525,"y":27.7,"e":0.9},{"p":9,"x":-0.475,"y":27.4,"e":0.9},{"p":9,"x":-0.425,"y":28.8,"e":0.9},{"p":9,"x":-0.375,"y":30.3,"e":0.9},{"p":9,"x":-0.325,"y":28.7,"e":0.9},{"p":9,"x":-0.275,"y":29.4,"e":0.9},{"p":9,"x":-0.225,"y":29.9,"e":0.9},{"p":9,"x":-0.175,"y":30.8,"e":0.9},{"p":9,"x":-0.125,"y":30.5,"e":0.9},{"p":9,"x":-0.075,"y":31.3,"e":0.9},{"p":9,"x":-0.025,"y":30.0,"e":0.9},{"p":9,"x":0.025,"y":30.2,"e":0.9},{"p":9,"x":0.075,"y":31.0,"e":0.9},{"p":9,"x":0.125,"y":29.9,"e":0.9},{"p":9,"x":0.175,"y":30.4,"e":0.9},{"p":9,"x":0.225,"y":30.0,"e":0.9},{"p":9,"x":0.275,"y":29.7,"e":0.9},{"p":9,"x":0.325,"y":29.4,"e":0.9},{"p":9,"x":0.375,"y":31.0,"e":0.9},{"p":9,"x":0.425,"y":33.0,"e":0.9},{"p":9,"x":0.475,"y":33.2,"e":0.9},{"p":9,"x":0.525,"y":33.8,"e":0.9},{"p":9,"x":0.575,"y":32.3,"e":0.9},{"p":9,"x":0.625,"y":31.3,"e":0.9},{"p":9,"x":0.675,"y":34.4,"e":0.9},{"p":9,"x":0.725,"y":34.4,"e":0.9},{"p":9,"x":0.775,"y":34.5,"e":0.9},{"p":9,"x":0.825,"y":36.0,"e":0.9},{"p":9,"x":0.875,"y":34.0,"e":0.9},{"p":9,"x":0.925,"y":34.0,"e":0.9},{"p":9,"x":0.975,"y":34.3,"e":0.9},
{"p":10,"x":-0.975,"y":24.7,"e":1.0},{"p":10,"x":-0.925,"y":25.2,"e":1.0},{"p":10,"x":-0.875,"y":24.9,"e":1.0},{"p":10,"x":-0.825,"y":24.8,"e":1.0},{"p":10,"x":-0.775,"y":24.8,"e":1.0},{"p":10,"x":-0.725,"y":26.2,"e":1.0},{"p":10,"x":-0.675,"y":27.6,"e":1.0},{"p":10,"x":-0.625,"y":27.7,"e":1.0},{"p":10,"x":-0.575,"y":27.8,"e":1.0},{"p":10,"x":-0.525,"y":28.4,"e":1.0},{"p":10,"x":-0.475,"y":27.0,"e":1.0},{"p":10,"x":-0.425,"y":27.6,"e":1.0},{"p":10,"x":-0.375,"y":27.4,"e":1.0},{"p":10,"x":-0.325,"y":27.8,"e":1.0},{"p":10,"x":-0.275,"y":27.9,"e":1.0},{"p":10,"x":-0.225,"y":28.4,"e":1.0},{"p":10,"x":-0.175,"y":28.7,"e":1.0},{"p":10,"x":-0.125,"y":28.8,"e":1.0},{"p":10,"x":-0.075,"y":29.7,"e":1.0},{"p":10,"x":-0.025,"y":30.0,"e":1.0},{"p":10,"x":0.025,"y":30.5,"e":1.0},{"p":10,"x":0.075,"y":30.4,"e":1.0},{"p":10,"x":0.125,"y":30.1,"e":1.0},{"p":10,"x":0.175,"y":30.0,"e":1.0},{"p":10,"x":0.225,"y":32.9,"e":1.0},{"p":10,"x":0.275,"y":30.6,"e":1.0},{"p":10,"x":0.325,"y":30.5,"e":1.0},{"p":10,"x":0.375,"y":30.2,"e":1.0},{"p":10,"x":0.425,"y":29.9,"e":1.0},{"p":10,"x":0.475,"y":32.4,"e":1.0},{"p":10,"x":0.525,"y":32.5,"e":1.0},{"p":10,"x":0.575,"y":32.4,"e":1.0},{"p":10,"x":0.625,"y":32.2,"e":1.0},{"p":10,"x":0.675,"y":33.6,"e":1.0},{"p":10,"x":0.725,"y":35.8,"e":1.0},{"p":10,"x":0.775,"y":35.8,"e":1.0},{"p":10,"x":0.825,"y":33.4,"e":1.0},{"p":10,"x":0.875,"y":35.3,"e":1.0},{"p":10,"x":0.925,"y":35.5,"e":1.0},{"p":10,"x":0.975,"y":35.5,"e":1.0},
{"p":11,"x":-0.975,"y":23.5,"e":1.0},{"p":11,"x":-0.925,"y":23.1,"e":1.0},{"p":11,"x":-0.875,"y":23.8,"e":1.0},{"p":11,"x":-0.825,"y":23.7,"e":1.0},{"p":11,"x":-0.775,"y":24.2,"e":1.0},{"p":11,"x":-0.725,"y":26.2,"e":1.0},{"p":11,"x":-0.675,"y":26.2,"e":1.0},{"p":11,"x":-0.625,"y":25.6,"e":1.0},{"p":11,"x":-0.575,"y":27.8,"e":1.0},{"p":11,"x":-0.525,"y":26.2,"e":1.0},{"p":11,"x":-0.475,"y":26.4,"e":1.0},{"p":11,"x":-0.425,"y":27.1,"e":1.0},{"p":11,"x":-0.375,"y":28.4,"e":1.0},{"p":11,"x":-0.325,"y":27.4,"e":1.0},{"p":11,"x":-0.275,"y":27.8,"e":1.0},{"p":11,"x":-0.225,"y":28.4,"e":1.0},{"p":11,"x":-0.175,"y":27.8,"e":1.0},{"p":11,"x":-0.125,"y":28.9,"e":1.0},{"p":11,"x":-0.075,"y":30.0,"e":1.0},{"p":11,"x":-0.025,"y":30.4,"e":1.0},{"p":11,"x":0.025,"y":30.4,"e":1.0},{"p":11,"x":0.075,"y":31.2,"e":1.0},{"p":11,"x":0.125,"y":32.2,"e":1.0},{"p":11,"x":0.175,"y":32.4,"e":1.0},{"p":11,"x":0.225,"y":32.4,"e":1.0},{"p":11,"x":0.275,"y":32.5,"e":1.0},{"p":11,"x":0.325,"y":31.6,"e":1.0},{"p":11,"x":0.375,"y":33.4,"e":1.0},{"p":11,"x":0.425,"y":34.1,"e":1.0},{"p":11,"x":0.475,"y":34.5,"e":1.0},{"p":11,"x":0.525,"y":35.2,"e":1.0},{"p":11,"x":0.575,"y":33.7,"e":1.0},{"p":11,"x":0.625,"y":36.3,"e":1.0},{"p":11,"x":0.675,"y":36.3,"e":1.0},{"p":11,"x":0.725,"y":35.8,"e":1.0},{"p":11,"x":0.775,"y":35.8,"e":1.0},{"p":11,"x":0.825,"y":35.7,"e":1.0},{"p":11,"x":0.875,"y":35.7,"e":1.0},{"p":11,"x":0.925,"y":36.2,"e":1.0},{"p":11,"x":0.975,"y":36.2,"e":1.0},
{"p":12,"x":-0.975,"y":24.5,"e":1.0},{"p":12,"x":-0.925,"y":23.7,"e":1.0},{"p":12,"x":-0.875,"y":22.5,"e":1.0},{"p":12,"x":-0.825,"y":24.8,"e":1.0},{"p":12,"x":-0.775,"y":25.2,"e":1.0},{"p":12,"x":-0.725,"y":25.8,"e":1.0},{"p":12,"x":-0.675,"y":26.0,"e":1.0},{"p":12,"x":-0.625,"y":26.4,"e":1.0},{"p":12,"x":-0.575,"y":25.7,"e":1.0},{"p":12,"x":-0.525,"y":28.4,"e":1.0},{"p":12,"x":-0.475,"y":28.7,"e":1.0},{"p":12,"x":-0.425,"y":28.7,"e":1.0},{"p":12,"x":-0.375,"y":29.1,"e":1.0},{"p":12,"x":-0.325,"y":28.9,"e":1.0},{"p":12,"x":-0.275,"y":29.1,"e":1.0},{"p":12,"x":-0.225,"y":31.1,"e":1.0},{"p":12,"x":-0.175,"y":28.4,"e":1.0},{"p":12,"x":-0.125,"y":29.2,"e":1.0},{"p":12,"x":-0.075,"y":30.0,"e":1.0},{"p":12,"x":-0.025,"y":30.2,"e":1.0},{"p":12,"x":0.025,"y":30.7,"e":1.0},{"p":12,"x":0.075,"y":31.1,"e":1.0},{"p":12,"x":0.125,"y":32.9,"e":1.0},{"p":12,"x":0.175,"y":32.7,"e":1.0},{"p":12,"x":0.225,"y":33.2,"e":1.0},{"p":12,"x":0.275,"y":33.1,"e":1.0},{"p":12,"x":0.325,"y":31.4,"e":1.0},{"p":12,"x":0.375,"y":33.4,"e":1.0},{"p":12,"x":0.425,"y":33.4,"e":1.0},{"p":12,"x":0.475,"y":33.1,"e":1.0},{"p":12,"x":0.525,"y":34.7,"e":1.0},{"p":12,"x":0.575,"y":34.4,"e":1.0},{"p":12,"x":0.625,"y":34.9,"e":1.0},{"p":12,"x":0.675,"y":35.6,"e":1.0},{"p":12,"x":0.725,"y":36.8,"e":1.0},{"p":12,"x":0.775,"y":37.3,"e":1.0},{"p":12,"x":0.825,"y":38.2,"e":1.0},{"p":12,"x":0.875,"y":38.0,"e":1.0},{"p":12,"x":0.925,"y":36.6,"e":1.0},{"p":12,"x":0.975,"y":39.0,"e":1.0},
{"p":13,"x":-0.975,"y":21.2,"e":1.15},{"p":13,"x":-0.925,"y":21.7,"e":1.15},{"p":13,"x":-0.875,"y":22.5,"e":1.15},{"p":13,"x":-0.825,"y":22.6,"e":1.15},{"p":13,"x":-0.775,"y":24.5,"e":1.15},{"p":13,"x":-0.725,"y":24.8,"e":1.15},{"p":13,"x":-0.675,"y":24.1,"e":1.15},{"p":13,"x":-0.625,"y":23.4,"e":1.15},{"p":13,"x":-0.575,"y":24.5,"e":1.15},{"p":13,"x":-0.525,"y":25.2,"e":1.15},{"p":13,"x":-0.475,"y":24.6,"e":1.15},{"p":13,"x":-0.425,"y":26.1,"e":1.15},{"p":13,"x":-0.375,"y":26.7,"e":1.15},{"p":13,"x":-0.325,"y":26.3,"e":1.15},{"p":13,"x":-0.275,"y":27.4,"e":1.15},{"p":13,"x":-0.225,"y":28.1,"e":1.15},{"p":13,"x":-0.175,"y":29.8,"e":1.15},{"p":13,"x":-0.125,"y":29.7,"e":1.15},{"p":13,"x":-0.075,"y":28.9,"e":1.15},{"p":13,"x":-0.025,"y":30.3,"e":1.15},{"p":13,"x":0.025,"y":29.7,"e":1.15},{"p":13,"x":0.075,"y":29.1,"e":1.15},{"p":13,"x":0.125,"y":32.2,"e":1.15},{"p":13,"x":0.175,"y":32.2,"e":1.15},{"p":13,"x":0.225,"y":32.4,"e":1.15},{"p":13,"x":0.275,"y":33.2,"e":1.15},{"p":13,"x":0.325,"y":33.7,"e":1.15},{"p":13,"x":0.375,"y":34.6,"e":1.15},{"p":13,"x":0.425,"y":36.1,"e":1.15},{"p":13,"x":0.475,"y":33.7,"e":1.15},{"p":13,"x":0.525,"y":35.4,"e":1.15},{"p":13,"x":0.575,"y":34.7,"e":1.15},{"p":13,"x":0.625,"y":36.1,"e":1.15},{"p":13,"x":0.675,"y":35.5,"e":1.15},{"p":13,"x":0.725,"y":38.0,"e":1.15},{"p":13,"x":0.775,"y":37.8,"e":1.15},{"p":13,"x":0.825,"y":39.0,"e":1.15},{"p":13,"x":0.875,"y":40.3,"e":1.15},{"p":13,"x":0.925,"y":37.9,"e":1.15},{"p":13,"x":0.975,"y":40.3,"e":1.15},
{"p":14,"x":-0.975,"y":20.5,"e":1.15},{"p":14,"x":-0.925,"y":20.7,"e":1.15},{"p":14,"x":-0.875,"y":20.5,"e":1.15},{"p":14,"x":-0.825,"y":22.2,"e":1.15},{"p":14,"x":-0.775,"y":23.8,"e":1.15},{"p":14,"x":-0.725,"y":23.0,"e":1.15},{"p":14,"x":-0.675,"y":24.1,"e":1.15},{"p":14,"x":-0.625,"y":23.8,"e":1.15},{"p":14,"x":-0.575,"y":24.3,"e":1.15},{"p":14,"x":-0.525,"y":24.0,"e":1.15},{"p":14,"x":-0.475,"y":24.5,"e":1.15},{"p":14,"x":-0.425,"y":24.8,"e":1.15},{"p":14,"x":-0.375,"y":26.1,"e":1.15},{"p":14,"x":-0.325,"y":25.7,"e":1.15},{"p":14,"x":-0.275,"y":25.6,"e":1.15},{"p":14,"x":-0.225,"y":27.7,"e":1.15},{"p":14,"x":-0.175,"y":27.6,"e":1.15},{"p":14,"x":-0.125,"y":30.2,"e":1.15},{"p":14,"x":-0.075,"y":28.4,"e":1.15},{"p":14,"x":-0.025,"y":31.8,"e":1.15},{"p":14,"x":0.025,"y":30.7,"e":1.15},{"p":14,"x":0.075,"y":31.2,"e":1.15},{"p":14,"x":0.125,"y":33.9,"e":1.15},{"p":14,"x":0.175,"y":33.9,"e":1.15},{"p":14,"x":0.225,"y":33.3,"e":1.15},{"p":14,"x":0.275,"y":34.1,"e":1.15},{"p":14,"x":0.325,"y":36.1,"e":1.15},{"p":14,"x":0.375,"y":34.8,"e":1.15},{"p":14,"x":0.425,"y":37.2,"e":1.15},{"p":14,"x":0.475,"y":38.6,"e":1.15},{"p":14,"x":0.525,"y":37.4,"e":1.15},{"p":14,"x":0.575,"y":36.6,"e":1.15},{"p":14,"x":0.625,"y":37.9,"e":1.15},{"p":14,"x":0.675,"y":37.2,"e":1.15},{"p":14,"x":0.725,"y":38.2,"e":1.15},{"p":14,"x":0.775,"y":40.3,"e":1.15},{"p":14,"x":0.825,"y":40.8,"e":1.15},{"p":14,"x":0.875,"y":41.1,"e":1.15},{"p":14,"x":0.925,"y":42.0,"e":1.15},{"p":14,"x":0.975,"y":40.3,"e":1.15},
{"p":15,"x":-0.975,"y":17.0,"e":1.4},{"p":15,"x":-0.925,"y":17.0,"e":1.4},{"p":15,"x":-0.875,"y":20.8,"e":1.4},{"p":15,"x":-0.825,"y":20.5,"e":1.4},{"p":15,"x":-0.775,"y":22.1,"e":1.5},{"p":15,"x":-0.725,"y":21.9,"e":1.5},{"p":15,"x":-0.675,"y":22.2,"e":1.5},{"p":15,"x":-0.625,"y":22.7,"e":1.5},{"p":15,"x":-0.575,"y":23.1,"e":1.6},{"p":15,"x":-0.525,"y":21.4,"e":1.6},{"p":15,"x":-0.475,"y":24.6,"e":1.6},{"p":15,"x":-0.425,"y":23.8,"e":1.7},{"p":15,"x":-0.375,"y":26.4,"e":1.7},{"p":15,"x":-0.325,"y":25.6,"e":1.7},{"p":15,"x":-0.275,"y":25.4,"e":1.8},{"p":15,"x":-0.225,"y":29.0,"e":1.8},{"p":15,"x":-0.175,"y":28.2,"e":1.8},{"p":15,"x":-0.125,"y":31.4,"e":1.9},{"p":15,"x":-0.075,"y":31.9,"e":1.9},{"p":15,"x":-0.025,"y":32.6,"e":2.0},{"p":15,"x":0.025,"y":30.8,"e":2.0},{"p":15,"x":0.075,"y":31.5,"e":2.0},{"p":15,"x":0.125,"y":33.1,"e":2.1},{"p":15,"x":0.175,"y":33.6,"e":2.1},{"p":15,"x":0.225,"y":34.6,"e":2.2},{"p":15,"x":0.275,"y":35.3,"e":2.2},{"p":15,"x":0.325,"y":36.2,"e":2.3},{"p":15,"x":0.375,"y":36.9,"e":2.3},{"p":15,"x":0.425,"y":39.1,"e":2.4},{"p":15,"x":0.475,"y":40.8,"e":2.5},{"p":15,"x":0.525,"y":41.3,"e":2.5},{"p":15,"x":0.575,"y":45.0,"e":2.9},{"p":15,"x":0.625,"y":44.1,"e":2.8},{"p":15,"x":0.675,"y":45.7,"e":3.0},{"p":15,"x":0.725,"y":45.4,"e":2.8},{"p":15,"x":0.775,"y":44.5,"e":2.6},{"p":15,"x":0.825,"y":42.6,"e":2.4},{"p":15,"x":0.875,"y":41.6,"e":2.2},{"p":15,"x":0.925,"y":42.5,"e":2.0},{"p":15,"x":0.975,"y":43.8,"e":1.8}
]
},
"columns":3,
"spacing":0,
"bounds":"flush",
"concat":[
{"width":332.4,"height":296.6,"title":{"text":"χ²/ndf = 59.83/38 = 1.57","subtitle":"Q = 1.14 MeV"},"resolve":{"axis":{"x":"independent","y":"independent"}},"layer":[
{"data":{"name":"pts"},"transform":[{"filter":"datum.p==1"}],"mark":{"type":"tick","orient":"horizontal","size":7,"thickness":2,"color":"#000000"},"encoding":{"x":{"field":"x","type":"quantitative","scale":{"domain":[-1.2,1.2],"nice":false},"axis":{"orient":"top","values":[-1,-0.5,0,0.5,1],"labels":false,"title":null}},"y":{"field":"y","type":"quantitative","scale":{"domain":[8,52],"nice":false},"axis":{"orient":"right","values":[10,20,30,40,50],"labels":false,"title":null}}}},
{"data":{"name":"pts"},"transform":[{"filter":"datum.p==1"}],"mark":{"type":"errorbar","ticks":true,"size":4,"thickness":2,"color":"#000000"},"encoding":{"x":{"field":"x","type":"quantitative","axis":null},"y":{"field":"y","type":"quantitative","axis":null},"yError":{"field":"e"}}},
{"data":{"name":"fit"},"transform":[{"filter":"datum.p==1"}],"mark":{"type":"line","color":"#ff0000","strokeWidth":4},"encoding":{"x":{"field":"x","type":"quantitative","axis":{"orient":"bottom","values":[-1,-0.5,0,0.5,1],"labels":false,"title":null}},"y":{"field":"y","type":"quantitative","axis":{"orient":"left","values":[10,20,30,40,50],"title":null}}}},
{"data":{"name":"fit"},"transform":[{"filter":"datum.p==1"}],"mark":{"type":"point","opacity":0},"encoding":{"x":{"field":"x","type":"quantitative","axis":{"orient":"bottom","values":[-1.1,-0.9,-0.8,-0.7,-0.6,-0.4,-0.3,-0.2,-0.1,0.1,0.2,0.3,0.4,0.6,0.7,0.8,0.9,1.1],"tickSize":-4,"labels":false,"domain":false,"title":null}},"y":{"field":"y","type":"quantitative","axis":{"orient":"left","values":[12,14,16,18,22,24,26,28,32,34,36,38,42,44,46,48],"tickSize":-6,"labels":false,"domain":false,"title":null}}}},
{"data":{"name":"fit"},"transform":[{"filter":"datum.p==1"}],"mark":{"type":"point","opacity":0},"encoding":{"x":{"field":"x","type":"quantitative","axis":{"orient":"top","values":[-1.1,-0.9,-0.8,-0.7,-0.6,-0.4,-0.3,-0.2,-0.1,0.1,0.2,0.3,0.4,0.6,0.7,0.8,0.9,1.1],"tickSize":-4,"labels":false,"domain":false,"title":null}},"y":{"field":"y","type":"quantitative","axis":{"orient":"right","values":[12,14,16,18,22,24,26,28,32,34,36,38,42,44,46,48],"tickSize":-6,"labels":false,"domain":false,"title":null}}}}
]},
{"width":342.6,"height":296.6,"title":{"text":"χ²/ndf = 80.33/38 = 2.11","subtitle":"Q = 1.36 MeV"},"resolve":{"axis":{"x":"independent","y":"independent"}},"layer":[
{"data":{"name":"pts"},"transform":[{"filter":"datum.p==2"}],"mark":{"type":"tick","orient":"horizontal","size":7,"thickness":2,"color":"#000000"},"encoding":{"x":{"field":"x","type":"quantitative","scale":{"domain":[-1.2,1.2],"nice":false},"axis":{"orient":"top","values":[-1,-0.5,0,0.5,1],"labels":false,"title":null}},"y":{"field":"y","type":"quantitative","scale":{"domain":[8,52],"nice":false},"axis":{"orient":"right","values":[10,20,30,40,50],"labels":false,"title":null}}}},
{"data":{"name":"pts"},"transform":[{"filter":"datum.p==2"}],"mark":{"type":"errorbar","ticks":true,"size":4,"thickness":2,"color":"#000000"},"encoding":{"x":{"field":"x","type":"quantitative","axis":null},"y":{"field":"y","type":"quantitative","axis":null},"yError":{"field":"e"}}},
{"data":{"name":"fit"},"transform":[{"filter":"datum.p==2"}],"mark":{"type":"line","color":"#ff0000","strokeWidth":4},"encoding":{"x":{"field":"x","type":"quantitative","axis":{"orient":"bottom","values":[-1,-0.5,0,0.5,1],"labels":false,"title":null}},"y":{"field":"y","type":"quantitative","axis":{"orient":"left","values":[10,20,30,40,50],"labels":false,"title":null}}}},
{"data":{"name":"fit"},"transform":[{"filter":"datum.p==2"}],"mark":{"type":"point","opacity":0},"encoding":{"x":{"field":"x","type":"quantitative","axis":{"orient":"bottom","values":[-1.1,-0.9,-0.8,-0.7,-0.6,-0.4,-0.3,-0.2,-0.1,0.1,0.2,0.3,0.4,0.6,0.7,0.8,0.9,1.1],"tickSize":-4,"labels":false,"domain":false,"title":null}},"y":{"field":"y","type":"quantitative","axis":{"orient":"left","values":[12,14,16,18,22,24,26,28,32,34,36,38,42,44,46,48],"tickSize":-6,"labels":false,"domain":false,"title":null}}}},
{"data":{"name":"fit"},"transform":[{"filter":"datum.p==2"}],"mark":{"type":"point","opacity":0},"encoding":{"x":{"field":"x","type":"quantitative","axis":{"orient":"top","values":[-1.1,-0.9,-0.8,-0.7,-0.6,-0.4,-0.3,-0.2,-0.1,0.1,0.2,0.3,0.4,0.6,0.7,0.8,0.9,1.1],"tickSize":-4,"labels":false,"domain":false,"title":null}},"y":{"field":"y","type":"quantitative","axis":{"orient":"right","values":[12,14,16,18,22,24,26,28,32,34,36,38,42,44,46,48],"tickSize":-6,"labels":false,"domain":false,"title":null}}}}
]},
{"width":339.2,"height":296.6,"title":{"text":"χ²/ndf = 56.01/38 = 1.47","subtitle":"Q = 1.63 MeV"},"resolve":{"axis":{"x":"independent","y":"independent"}},"layer":[
{"data":{"name":"pts"},"transform":[{"filter":"datum.p==3"}],"mark":{"type":"tick","orient":"horizontal","size":7,"thickness":2,"color":"#000000"},"encoding":{"x":{"field":"x","type":"quantitative","scale":{"domain":[-1.2,1.2],"nice":false},"axis":{"orient":"top","values":[-1,-0.5,0,0.5,1],"labels":false,"title":null}},"y":{"field":"y","type":"quantitative","scale":{"domain":[8,52],"nice":false},"axis":{"orient":"right","values":[10,20,30,40,50],"labels":false,"title":null}}}},
{"data":{"name":"pts"},"transform":[{"filter":"datum.p==3"}],"mark":{"type":"errorbar","ticks":true,"size":4,"thickness":2,"color":"#000000"},"encoding":{"x":{"field":"x","type":"quantitative","axis":null},"y":{"field":"y","type":"quantitative","axis":null},"yError":{"field":"e"}}},
{"data":{"name":"fit"},"transform":[{"filter":"datum.p==3"}],"mark":{"type":"line","color":"#ff0000","strokeWidth":4},"encoding":{"x":{"field":"x","type":"quantitative","axis":{"orient":"bottom","values":[-1,-0.5,0,0.5,1],"labels":false,"title":null}},"y":{"field":"y","type":"quantitative","axis":{"orient":"left","values":[10,20,30,40,50],"labels":false,"title":null}}}},
{"data":{"name":"fit"},"transform":[{"filter":"datum.p==3"}],"mark":{"type":"point","opacity":0},"encoding":{"x":{"field":"x","type":"quantitative","axis":{"orient":"bottom","values":[-1.1,-0.9,-0.8,-0.7,-0.6,-0.4,-0.3,-0.2,-0.1,0.1,0.2,0.3,0.4,0.6,0.7,0.8,0.9,1.1],"tickSize":-4,"labels":false,"domain":false,"title":null}},"y":{"field":"y","type":"quantitative","axis":{"orient":"left","values":[12,14,16,18,22,24,26,28,32,34,36,38,42,44,46,48],"tickSize":-6,"labels":false,"domain":false,"title":null}}}},
{"data":{"name":"fit"},"transform":[{"filter":"datum.p==3"}],"mark":{"type":"point","opacity":0},"encoding":{"x":{"field":"x","type":"quantitative","axis":{"orient":"top","values":[-1.1,-0.9,-0.8,-0.7,-0.6,-0.4,-0.3,-0.2,-0.1,0.1,0.2,0.3,0.4,0.6,0.7,0.8,0.9,1.1],"tickSize":-4,"labels":false,"domain":false,"title":null}},"y":{"field":"y","type":"quantitative","axis":{"orient":"right","values":[12,14,16,18,22,24,26,28,32,34,36,38,42,44,46,48],"tickSize":-6,"labels":false,"domain":false,"title":null}}}}
]},
{"width":332.4,"height":296.6,"title":{"text":"χ²/ndf = 78.54/38 = 2.07","subtitle":"Q = 2.10 MeV"},"resolve":{"axis":{"x":"independent","y":"independent"}},"layer":[
{"data":{"name":"pts"},"transform":[{"filter":"datum.p==4"}],"mark":{"type":"tick","orient":"horizontal","size":7,"thickness":2,"color":"#000000"},"encoding":{"x":{"field":"x","type":"quantitative","scale":{"domain":[-1.2,1.2],"nice":false},"axis":{"orient":"top","values":[-1,-0.5,0,0.5,1],"labels":false,"title":null}},"y":{"field":"y","type":"quantitative","scale":{"domain":[8,52],"nice":false},"axis":{"orient":"right","values":[10,20,30,40,50],"labels":false,"title":null}}}},
{"data":{"name":"pts"},"transform":[{"filter":"datum.p==4"}],"mark":{"type":"errorbar","ticks":true,"size":4,"thickness":2,"color":"#000000"},"encoding":{"x":{"field":"x","type":"quantitative","axis":null},"y":{"field":"y","type":"quantitative","axis":null},"yError":{"field":"e"}}},
{"data":{"name":"fit"},"transform":[{"filter":"datum.p==4"}],"mark":{"type":"line","color":"#ff0000","strokeWidth":4},"encoding":{"x":{"field":"x","type":"quantitative","axis":{"orient":"bottom","values":[-1,-0.5,0,0.5,1],"labels":false,"title":null}},"y":{"field":"y","type":"quantitative","axis":{"orient":"left","values":[10,20,30,40,50],"title":null}}}},
{"data":{"name":"fit"},"transform":[{"filter":"datum.p==4"}],"mark":{"type":"point","opacity":0},"encoding":{"x":{"field":"x","type":"quantitative","axis":{"orient":"bottom","values":[-1.1,-0.9,-0.8,-0.7,-0.6,-0.4,-0.3,-0.2,-0.1,0.1,0.2,0.3,0.4,0.6,0.7,0.8,0.9,1.1],"tickSize":-4,"labels":false,"domain":false,"title":null}},"y":{"field":"y","type":"quantitative","axis":{"orient":"left","values":[12,14,16,18,22,24,26,28,32,34,36,38,42,44,46,48],"tickSize":-6,"labels":false,"domain":false,"title":null}}}},
{"data":{"name":"fit"},"transform":[{"filter":"datum.p==4"}],"mark":{"type":"point","opacity":0},"encoding":{"x":{"field":"x","type":"quantitative","axis":{"orient":"top","values":[-1.1,-0.9,-0.8,-0.7,-0.6,-0.4,-0.3,-0.2,-0.1,0.1,0.2,0.3,0.4,0.6,0.7,0.8,0.9,1.1],"tickSize":-4,"labels":false,"domain":false,"title":null}},"y":{"field":"y","type":"quantitative","axis":{"orient":"right","values":[12,14,16,18,22,24,26,28,32,34,36,38,42,44,46,48],"tickSize":-6,"labels":false,"domain":false,"title":null}}}}
]},
{"width":342.6,"height":296.6,"title":{"text":"χ²/ndf = 64.84/38 = 1.71","subtitle":"Q = 2.59 MeV"},"resolve":{"axis":{"x":"independent","y":"independent"}},"layer":[
{"data":{"name":"pts"},"transform":[{"filter":"datum.p==5"}],"mark":{"type":"tick","orient":"horizontal","size":7,"thickness":2,"color":"#000000"},"encoding":{"x":{"field":"x","type":"quantitative","scale":{"domain":[-1.2,1.2],"nice":false},"axis":{"orient":"top","values":[-1,-0.5,0,0.5,1],"labels":false,"title":null}},"y":{"field":"y","type":"quantitative","scale":{"domain":[8,52],"nice":false},"axis":{"orient":"right","values":[10,20,30,40,50],"labels":false,"title":null}}}},
{"data":{"name":"pts"},"transform":[{"filter":"datum.p==5"}],"mark":{"type":"errorbar","ticks":true,"size":4,"thickness":2,"color":"#000000"},"encoding":{"x":{"field":"x","type":"quantitative","axis":null},"y":{"field":"y","type":"quantitative","axis":null},"yError":{"field":"e"}}},
{"data":{"name":"fit"},"transform":[{"filter":"datum.p==5"}],"mark":{"type":"line","color":"#ff0000","strokeWidth":4},"encoding":{"x":{"field":"x","type":"quantitative","axis":{"orient":"bottom","values":[-1,-0.5,0,0.5,1],"labels":false,"title":null}},"y":{"field":"y","type":"quantitative","axis":{"orient":"left","values":[10,20,30,40,50],"labels":false,"title":null}}}},
{"data":{"name":"fit"},"transform":[{"filter":"datum.p==5"}],"mark":{"type":"point","opacity":0},"encoding":{"x":{"field":"x","type":"quantitative","axis":{"orient":"bottom","values":[-1.1,-0.9,-0.8,-0.7,-0.6,-0.4,-0.3,-0.2,-0.1,0.1,0.2,0.3,0.4,0.6,0.7,0.8,0.9,1.1],"tickSize":-4,"labels":false,"domain":false,"title":null}},"y":{"field":"y","type":"quantitative","axis":{"orient":"left","values":[12,14,16,18,22,24,26,28,32,34,36,38,42,44,46,48],"tickSize":-6,"labels":false,"domain":false,"title":null}}}},
{"data":{"name":"fit"},"transform":[{"filter":"datum.p==5"}],"mark":{"type":"point","opacity":0},"encoding":{"x":{"field":"x","type":"quantitative","axis":{"orient":"top","values":[-1.1,-0.9,-0.8,-0.7,-0.6,-0.4,-0.3,-0.2,-0.1,0.1,0.2,0.3,0.4,0.6,0.7,0.8,0.9,1.1],"tickSize":-4,"labels":false,"domain":false,"title":null}},"y":{"field":"y","type":"quantitative","axis":{"orient":"right","values":[12,14,16,18,22,24,26,28,32,34,36,38,42,44,46,48],"tickSize":-6,"labels":false,"domain":false,"title":null}}}}
]},
{"width":339.2,"height":296.6,"title":{"text":"χ²/ndf = 59.93/38 = 1.58","subtitle":"Q = 3.08 MeV"},"resolve":{"axis":{"x":"independent","y":"independent"}},"layer":[
{"data":{"name":"pts"},"transform":[{"filter":"datum.p==6"}],"mark":{"type":"tick","orient":"horizontal","size":7,"thickness":2,"color":"#000000"},"encoding":{"x":{"field":"x","type":"quantitative","scale":{"domain":[-1.2,1.2],"nice":false},"axis":{"orient":"top","values":[-1,-0.5,0,0.5,1],"labels":false,"title":null}},"y":{"field":"y","type":"quantitative","scale":{"domain":[8,52],"nice":false},"axis":{"orient":"right","values":[10,20,30,40,50],"labels":false,"title":null}}}},
{"data":{"name":"pts"},"transform":[{"filter":"datum.p==6"}],"mark":{"type":"errorbar","ticks":true,"size":4,"thickness":2,"color":"#000000"},"encoding":{"x":{"field":"x","type":"quantitative","axis":null},"y":{"field":"y","type":"quantitative","axis":null},"yError":{"field":"e"}}},
{"data":{"name":"fit"},"transform":[{"filter":"datum.p==6"}],"mark":{"type":"line","color":"#ff0000","strokeWidth":4},"encoding":{"x":{"field":"x","type":"quantitative","axis":{"orient":"bottom","values":[-1,-0.5,0,0.5,1],"labels":false,"title":null}},"y":{"field":"y","type":"quantitative","axis":{"orient":"left","values":[10,20,30,40,50],"labels":false,"title":null}}}},
{"data":{"name":"fit"},"transform":[{"filter":"datum.p==6"}],"mark":{"type":"point","opacity":0},"encoding":{"x":{"field":"x","type":"quantitative","axis":{"orient":"bottom","values":[-1.1,-0.9,-0.8,-0.7,-0.6,-0.4,-0.3,-0.2,-0.1,0.1,0.2,0.3,0.4,0.6,0.7,0.8,0.9,1.1],"tickSize":-4,"labels":false,"domain":false,"title":null}},"y":{"field":"y","type":"quantitative","axis":{"orient":"left","values":[12,14,16,18,22,24,26,28,32,34,36,38,42,44,46,48],"tickSize":-6,"labels":false,"domain":false,"title":null}}}},
{"data":{"name":"fit"},"transform":[{"filter":"datum.p==6"}],"mark":{"type":"point","opacity":0},"encoding":{"x":{"field":"x","type":"quantitative","axis":{"orient":"top","values":[-1.1,-0.9,-0.8,-0.7,-0.6,-0.4,-0.3,-0.2,-0.1,0.1,0.2,0.3,0.4,0.6,0.7,0.8,0.9,1.1],"tickSize":-4,"labels":false,"domain":false,"title":null}},"y":{"field":"y","type":"quantitative","axis":{"orient":"right","values":[12,14,16,18,22,24,26,28,32,34,36,38,42,44,46,48],"tickSize":-6,"labels":false,"domain":false,"title":null}}}}
]},
{"width":332.4,"height":296.6,"title":{"text":"χ²/ndf = 67.27/38 = 1.77","subtitle":"Q = 3.79 MeV"},"resolve":{"axis":{"x":"independent","y":"independent"}},"layer":[
{"data":{"name":"pts"},"transform":[{"filter":"datum.p==7"}],"mark":{"type":"tick","orient":"horizontal","size":7,"thickness":2,"color":"#000000"},"encoding":{"x":{"field":"x","type":"quantitative","scale":{"domain":[-1.2,1.2],"nice":false},"axis":{"orient":"top","values":[-1,-0.5,0,0.5,1],"labels":false,"title":null}},"y":{"field":"y","type":"quantitative","scale":{"domain":[8,52],"nice":false},"axis":{"orient":"right","values":[10,20,30,40,50],"labels":false,"title":null}}}},
{"data":{"name":"pts"},"transform":[{"filter":"datum.p==7"}],"mark":{"type":"errorbar","ticks":true,"size":4,"thickness":2,"color":"#000000"},"encoding":{"x":{"field":"x","type":"quantitative","axis":null},"y":{"field":"y","type":"quantitative","axis":null},"yError":{"field":"e"}}},
{"data":{"name":"fit"},"transform":[{"filter":"datum.p==7"}],"mark":{"type":"line","color":"#ff0000","strokeWidth":4},"encoding":{"x":{"field":"x","type":"quantitative","axis":{"orient":"bottom","values":[-1,-0.5,0,0.5,1],"labels":false,"title":null}},"y":{"field":"y","type":"quantitative","axis":{"orient":"left","values":[10,20,30,40,50],"title":null}}}},
{"data":{"name":"fit"},"transform":[{"filter":"datum.p==7"}],"mark":{"type":"point","opacity":0},"encoding":{"x":{"field":"x","type":"quantitative","axis":{"orient":"bottom","values":[-1.1,-0.9,-0.8,-0.7,-0.6,-0.4,-0.3,-0.2,-0.1,0.1,0.2,0.3,0.4,0.6,0.7,0.8,0.9,1.1],"tickSize":-4,"labels":false,"domain":false,"title":null}},"y":{"field":"y","type":"quantitative","axis":{"orient":"left","values":[12,14,16,18,22,24,26,28,32,34,36,38,42,44,46,48],"tickSize":-6,"labels":false,"domain":false,"title":null}}}},
{"data":{"name":"fit"},"transform":[{"filter":"datum.p==7"}],"mark":{"type":"point","opacity":0},"encoding":{"x":{"field":"x","type":"quantitative","axis":{"orient":"top","values":[-1.1,-0.9,-0.8,-0.7,-0.6,-0.4,-0.3,-0.2,-0.1,0.1,0.2,0.3,0.4,0.6,0.7,0.8,0.9,1.1],"tickSize":-4,"labels":false,"domain":false,"title":null}},"y":{"field":"y","type":"quantitative","axis":{"orient":"right","values":[12,14,16,18,22,24,26,28,32,34,36,38,42,44,46,48],"tickSize":-6,"labels":false,"domain":false,"title":null}}}}
]},
{"width":342.6,"height":296.6,"title":{"text":"χ²/ndf = 64.84/38 = 1.71","subtitle":"Q = 4.09 MeV"},"resolve":{"axis":{"x":"independent","y":"independent"}},"layer":[
{"data":{"name":"pts"},"transform":[{"filter":"datum.p==8"}],"mark":{"type":"tick","orient":"horizontal","size":7,"thickness":2,"color":"#000000"},"encoding":{"x":{"field":"x","type":"quantitative","scale":{"domain":[-1.2,1.2],"nice":false},"axis":{"orient":"top","values":[-1,-0.5,0,0.5,1],"labels":false,"title":null}},"y":{"field":"y","type":"quantitative","scale":{"domain":[8,52],"nice":false},"axis":{"orient":"right","values":[10,20,30,40,50],"labels":false,"title":null}}}},
{"data":{"name":"pts"},"transform":[{"filter":"datum.p==8"}],"mark":{"type":"errorbar","ticks":true,"size":4,"thickness":2,"color":"#000000"},"encoding":{"x":{"field":"x","type":"quantitative","axis":null},"y":{"field":"y","type":"quantitative","axis":null},"yError":{"field":"e"}}},
{"data":{"name":"fit"},"transform":[{"filter":"datum.p==8"}],"mark":{"type":"line","color":"#ff0000","strokeWidth":4},"encoding":{"x":{"field":"x","type":"quantitative","axis":{"orient":"bottom","values":[-1,-0.5,0,0.5,1],"labels":false,"title":null}},"y":{"field":"y","type":"quantitative","axis":{"orient":"left","values":[10,20,30,40,50],"labels":false,"title":null}}}},
{"data":{"name":"fit"},"transform":[{"filter":"datum.p==8"}],"mark":{"type":"point","opacity":0},"encoding":{"x":{"field":"x","type":"quantitative","axis":{"orient":"bottom","values":[-1.1,-0.9,-0.8,-0.7,-0.6,-0.4,-0.3,-0.2,-0.1,0.1,0.2,0.3,0.4,0.6,0.7,0.8,0.9,1.1],"tickSize":-4,"labels":false,"domain":false,"title":null}},"y":{"field":"y","type":"quantitative","axis":{"orient":"left","values":[12,14,16,18,22,24,26,28,32,34,36,38,42,44,46,48],"tickSize":-6,"labels":false,"domain":false,"title":null}}}},
{"data":{"name":"fit"},"transform":[{"filter":"datum.p==8"}],"mark":{"type":"point","opacity":0},"encoding":{"x":{"field":"x","type":"quantitative","axis":{"orient":"top","values":[-1.1,-0.9,-0.8,-0.7,-0.6,-0.4,-0.3,-0.2,-0.1,0.1,0.2,0.3,0.4,0.6,0.7,0.8,0.9,1.1],"tickSize":-4,"labels":false,"domain":false,"title":null}},"y":{"field":"y","type":"quantitative","axis":{"orient":"right","values":[12,14,16,18,22,24,26,28,32,34,36,38,42,44,46,48],"tickSize":-6,"labels":false,"domain":false,"title":null}}}}
]},
{"width":339.2,"height":296.6,"title":{"text":"χ²/ndf = 49.49/38 = 1.30","subtitle":"Q = 4.55 MeV"},"resolve":{"axis":{"x":"independent","y":"independent"}},"layer":[
{"data":{"name":"pts"},"transform":[{"filter":"datum.p==9"}],"mark":{"type":"tick","orient":"horizontal","size":7,"thickness":2,"color":"#000000"},"encoding":{"x":{"field":"x","type":"quantitative","scale":{"domain":[-1.2,1.2],"nice":false},"axis":{"orient":"top","values":[-1,-0.5,0,0.5,1],"labels":false,"title":null}},"y":{"field":"y","type":"quantitative","scale":{"domain":[8,52],"nice":false},"axis":{"orient":"right","values":[10,20,30,40,50],"labels":false,"title":null}}}},
{"data":{"name":"pts"},"transform":[{"filter":"datum.p==9"}],"mark":{"type":"errorbar","ticks":true,"size":4,"thickness":2,"color":"#000000"},"encoding":{"x":{"field":"x","type":"quantitative","axis":null},"y":{"field":"y","type":"quantitative","axis":null},"yError":{"field":"e"}}},
{"data":{"name":"fit"},"transform":[{"filter":"datum.p==9"}],"mark":{"type":"line","color":"#ff0000","strokeWidth":4},"encoding":{"x":{"field":"x","type":"quantitative","axis":{"orient":"bottom","values":[-1,-0.5,0,0.5,1],"labels":false,"title":null}},"y":{"field":"y","type":"quantitative","axis":{"orient":"left","values":[10,20,30,40,50],"labels":false,"title":null}}}},
{"data":{"name":"fit"},"transform":[{"filter":"datum.p==9"}],"mark":{"type":"point","opacity":0},"encoding":{"x":{"field":"x","type":"quantitative","axis":{"orient":"bottom","values":[-1.1,-0.9,-0.8,-0.7,-0.6,-0.4,-0.3,-0.2,-0.1,0.1,0.2,0.3,0.4,0.6,0.7,0.8,0.9,1.1],"tickSize":-4,"labels":false,"domain":false,"title":null}},"y":{"field":"y","type":"quantitative","axis":{"orient":"left","values":[12,14,16,18,22,24,26,28,32,34,36,38,42,44,46,48],"tickSize":-6,"labels":false,"domain":false,"title":null}}}},
{"data":{"name":"fit"},"transform":[{"filter":"datum.p==9"}],"mark":{"type":"point","opacity":0},"encoding":{"x":{"field":"x","type":"quantitative","axis":{"orient":"top","values":[-1.1,-0.9,-0.8,-0.7,-0.6,-0.4,-0.3,-0.2,-0.1,0.1,0.2,0.3,0.4,0.6,0.7,0.8,0.9,1.1],"tickSize":-4,"labels":false,"domain":false,"title":null}},"y":{"field":"y","type":"quantitative","axis":{"orient":"right","values":[12,14,16,18,22,24,26,28,32,34,36,38,42,44,46,48],"tickSize":-6,"labels":false,"domain":false,"title":null}}}}
]},
{"width":332.4,"height":296.6,"title":{"text":"χ²/ndf = 44.14/38 = 1.16","subtitle":"Q = 5.07 MeV"},"resolve":{"axis":{"x":"independent","y":"independent"}},"layer":[
{"data":{"name":"pts"},"transform":[{"filter":"datum.p==10"}],"mark":{"type":"tick","orient":"horizontal","size":7,"thickness":2,"color":"#000000"},"encoding":{"x":{"field":"x","type":"quantitative","scale":{"domain":[-1.2,1.2],"nice":false},"axis":{"orient":"top","values":[-1,-0.5,0,0.5,1],"labels":false,"title":null}},"y":{"field":"y","type":"quantitative","scale":{"domain":[8,52],"nice":false},"axis":{"orient":"right","values":[10,20,30,40,50],"labels":false,"title":null}}}},
{"data":{"name":"pts"},"transform":[{"filter":"datum.p==10"}],"mark":{"type":"errorbar","ticks":true,"size":4,"thickness":2,"color":"#000000"},"encoding":{"x":{"field":"x","type":"quantitative","axis":null},"y":{"field":"y","type":"quantitative","axis":null},"yError":{"field":"e"}}},
{"data":{"name":"fit"},"transform":[{"filter":"datum.p==10"}],"mark":{"type":"line","color":"#ff0000","strokeWidth":4},"encoding":{"x":{"field":"x","type":"quantitative","axis":{"orient":"bottom","values":[-1,-0.5,0,0.5,1],"labels":false,"title":null}},"y":{"field":"y","type":"quantitative","axis":{"orient":"left","values":[10,20,30,40,50],"title":null}}}},
{"data":{"name":"fit"},"transform":[{"filter":"datum.p==10"}],"mark":{"type":"point","opacity":0},"encoding":{"x":{"field":"x","type":"quantitative","axis":{"orient":"bottom","values":[-1.1,-0.9,-0.8,-0.7,-0.6,-0.4,-0.3,-0.2,-0.1,0.1,0.2,0.3,0.4,0.6,0.7,0.8,0.9,1.1],"tickSize":-4,"labels":false,"domain":false,"title":null}},"y":{"field":"y","type":"quantitative","axis":{"orient":"left","values":[12,14,16,18,22,24,26,28,32,34,36,38,42,44,46,48],"tickSize":-6,"labels":false,"domain":false,"title":null}}}},
{"data":{"name":"fit"},"transform":[{"filter":"datum.p==10"}],"mark":{"type":"point","opacity":0},"encoding":{"x":{"field":"x","type":"quantitative","axis":{"orient":"top","values":[-1.1,-0.9,-0.8,-0.7,-0.6,-0.4,-0.3,-0.2,-0.1,0.1,0.2,0.3,0.4,0.6,0.7,0.8,0.9,1.1],"tickSize":-4,"labels":false,"domain":false,"title":null}},"y":{"field":"y","type":"quantitative","axis":{"orient":"right","values":[12,14,16,18,22,24,26,28,32,34,36,38,42,44,46,48],"tickSize":-6,"labels":false,"domain":false,"title":null}}}}
]},
{"width":342.6,"height":296.6,"title":{"text":"χ²/ndf = 29.60/38 = 0.78","subtitle":"Q = 6.33 MeV"},"resolve":{"axis":{"x":"independent","y":"independent"}},"layer":[
{"data":{"name":"pts"},"transform":[{"filter":"datum.p==11"}],"mark":{"type":"tick","orient":"horizontal","size":7,"thickness":2,"color":"#000000"},"encoding":{"x":{"field":"x","type":"quantitative","scale":{"domain":[-1.2,1.2],"nice":false},"axis":{"orient":"top","values":[-1,-0.5,0,0.5,1],"labels":false,"title":null}},"y":{"field":"y","type":"quantitative","scale":{"domain":[8,52],"nice":false},"axis":{"orient":"right","values":[10,20,30,40,50],"labels":false,"title":null}}}},
{"data":{"name":"pts"},"transform":[{"filter":"datum.p==11"}],"mark":{"type":"errorbar","ticks":true,"size":4,"thickness":2,"color":"#000000"},"encoding":{"x":{"field":"x","type":"quantitative","axis":null},"y":{"field":"y","type":"quantitative","axis":null},"yError":{"field":"e"}}},
{"data":{"name":"fit"},"transform":[{"filter":"datum.p==11"}],"mark":{"type":"line","color":"#ff0000","strokeWidth":4},"encoding":{"x":{"field":"x","type":"quantitative","axis":{"orient":"bottom","values":[-1,-0.5,0,0.5,1],"labels":false,"title":null}},"y":{"field":"y","type":"quantitative","axis":{"orient":"left","values":[10,20,30,40,50],"labels":false,"title":null}}}},
{"data":{"name":"fit"},"transform":[{"filter":"datum.p==11"}],"mark":{"type":"point","opacity":0},"encoding":{"x":{"field":"x","type":"quantitative","axis":{"orient":"bottom","values":[-1.1,-0.9,-0.8,-0.7,-0.6,-0.4,-0.3,-0.2,-0.1,0.1,0.2,0.3,0.4,0.6,0.7,0.8,0.9,1.1],"tickSize":-4,"labels":false,"domain":false,"title":null}},"y":{"field":"y","type":"quantitative","axis":{"orient":"left","values":[12,14,16,18,22,24,26,28,32,34,36,38,42,44,46,48],"tickSize":-6,"labels":false,"domain":false,"title":null}}}},
{"data":{"name":"fit"},"transform":[{"filter":"datum.p==11"}],"mark":{"type":"point","opacity":0},"encoding":{"x":{"field":"x","type":"quantitative","axis":{"orient":"top","values":[-1.1,-0.9,-0.8,-0.7,-0.6,-0.4,-0.3,-0.2,-0.1,0.1,0.2,0.3,0.4,0.6,0.7,0.8,0.9,1.1],"tickSize":-4,"labels":false,"domain":false,"title":null}},"y":{"field":"y","type":"quantitative","axis":{"orient":"right","values":[12,14,16,18,22,24,26,28,32,34,36,38,42,44,46,48],"tickSize":-6,"labels":false,"domain":false,"title":null}}}}
]},
{"width":339.2,"height":296.6,"title":{"text":"χ²/ndf = 59.83/38 = 1.57","subtitle":"Q = 7.32 MeV"},"resolve":{"axis":{"x":"independent","y":"independent"}},"layer":[
{"data":{"name":"pts"},"transform":[{"filter":"datum.p==12"}],"mark":{"type":"tick","orient":"horizontal","size":7,"thickness":2,"color":"#000000"},"encoding":{"x":{"field":"x","type":"quantitative","scale":{"domain":[-1.2,1.2],"nice":false},"axis":{"orient":"top","values":[-1,-0.5,0,0.5,1],"labels":false,"title":null}},"y":{"field":"y","type":"quantitative","scale":{"domain":[8,52],"nice":false},"axis":{"orient":"right","values":[10,20,30,40,50],"labels":false,"title":null}}}},
{"data":{"name":"pts"},"transform":[{"filter":"datum.p==12"}],"mark":{"type":"errorbar","ticks":true,"size":4,"thickness":2,"color":"#000000"},"encoding":{"x":{"field":"x","type":"quantitative","axis":null},"y":{"field":"y","type":"quantitative","axis":null},"yError":{"field":"e"}}},
{"data":{"name":"fit"},"transform":[{"filter":"datum.p==12"}],"mark":{"type":"line","color":"#ff0000","strokeWidth":4},"encoding":{"x":{"field":"x","type":"quantitative","axis":{"orient":"bottom","values":[-1,-0.5,0,0.5,1],"labels":false,"title":null}},"y":{"field":"y","type":"quantitative","axis":{"orient":"left","values":[10,20,30,40,50],"labels":false,"title":null}}}},
{"data":{"name":"fit"},"transform":[{"filter":"datum.p==12"}],"mark":{"type":"point","opacity":0},"encoding":{"x":{"field":"x","type":"quantitative","axis":{"orient":"bottom","values":[-1.1,-0.9,-0.8,-0.7,-0.6,-0.4,-0.3,-0.2,-0.1,0.1,0.2,0.3,0.4,0.6,0.7,0.8,0.9,1.1],"tickSize":-4,"labels":false,"domain":false,"title":null}},"y":{"field":"y","type":"quantitative","axis":{"orient":"left","values":[12,14,16,18,22,24,26,28,32,34,36,38,42,44,46,48],"tickSize":-6,"labels":false,"domain":false,"title":null}}}},
{"data":{"name":"fit"},"transform":[{"filter":"datum.p==12"}],"mark":{"type":"point","opacity":0},"encoding":{"x":{"field":"x","type":"quantitative","axis":{"orient":"top","values":[-1.1,-0.9,-0.8,-0.7,-0.6,-0.4,-0.3,-0.2,-0.1,0.1,0.2,0.3,0.4,0.6,0.7,0.8,0.9,1.1],"tickSize":-4,"labels":false,"domain":false,"title":null}},"y":{"field":"y","type":"quantitative","axis":{"orient":"right","values":[12,14,16,18,22,24,26,28,32,34,36,38,42,44,46,48],"tickSize":-6,"labels":false,"domain":false,"title":null}}}}
]},
{"width":332.4,"height":283.4,"title":{"text":"χ²/ndf = 41.66/38 = 1.10","subtitle":"Q = 8.60 MeV"},"resolve":{"axis":{"x":"independent","y":"independent"}},"layer":[
{"data":{"name":"pts"},"transform":[{"filter":"datum.p==13"}],"mark":{"type":"tick","orient":"horizontal","size":7,"thickness":2,"color":"#000000"},"encoding":{"x":{"field":"x","type":"quantitative","scale":{"domain":[-1.2,1.2],"nice":false},"axis":{"orient":"top","values":[-1,-0.5,0,0.5,1],"labels":false,"title":null}},"y":{"field":"y","type":"quantitative","scale":{"domain":[8,52],"nice":false},"axis":{"orient":"right","values":[10,20,30,40,50],"labels":false,"title":null}}}},
{"data":{"name":"pts"},"transform":[{"filter":"datum.p==13"}],"mark":{"type":"errorbar","ticks":true,"size":4,"thickness":2,"color":"#000000"},"encoding":{"x":{"field":"x","type":"quantitative","axis":null},"y":{"field":"y","type":"quantitative","axis":null},"yError":{"field":"e"}}},
{"data":{"name":"fit"},"transform":[{"filter":"datum.p==13"}],"mark":{"type":"line","color":"#ff0000","strokeWidth":4},"encoding":{"x":{"field":"x","type":"quantitative","axis":{"orient":"bottom","values":[-1,-0.5,0,0.5,1],"labelExpr":"''+datum.value","title":null}},"y":{"field":"y","type":"quantitative","axis":{"orient":"left","values":[10,20,30,40,50],"title":null}}}},
{"data":{"name":"fit"},"transform":[{"filter":"datum.p==13"}],"mark":{"type":"point","opacity":0},"encoding":{"x":{"field":"x","type":"quantitative","axis":{"orient":"bottom","values":[-1.1,-0.9,-0.8,-0.7,-0.6,-0.4,-0.3,-0.2,-0.1,0.1,0.2,0.3,0.4,0.6,0.7,0.8,0.9,1.1],"tickSize":-4,"labels":false,"domain":false,"title":null}},"y":{"field":"y","type":"quantitative","axis":{"orient":"left","values":[12,14,16,18,22,24,26,28,32,34,36,38,42,44,46,48],"tickSize":-6,"labels":false,"domain":false,"title":null}}}},
{"data":{"name":"fit"},"transform":[{"filter":"datum.p==13"}],"mark":{"type":"point","opacity":0},"encoding":{"x":{"field":"x","type":"quantitative","axis":{"orient":"top","values":[-1.1,-0.9,-0.8,-0.7,-0.6,-0.4,-0.3,-0.2,-0.1,0.1,0.2,0.3,0.4,0.6,0.7,0.8,0.9,1.1],"tickSize":-4,"labels":false,"domain":false,"title":null}},"y":{"field":"y","type":"quantitative","axis":{"orient":"right","values":[12,14,16,18,22,24,26,28,32,34,36,38,42,44,46,48],"tickSize":-6,"labels":false,"domain":false,"title":null}}}}
]},
{"width":342.6,"height":283.4,"title":{"text":"χ²/ndf = 62.42/38 = 1.64","subtitle":"Q = 10.37 MeV"},"resolve":{"axis":{"x":"independent","y":"independent"}},"layer":[
{"data":{"name":"pts"},"transform":[{"filter":"datum.p==14"}],"mark":{"type":"tick","orient":"horizontal","size":7,"thickness":2,"color":"#000000"},"encoding":{"x":{"field":"x","type":"quantitative","scale":{"domain":[-1.2,1.2],"nice":false},"axis":{"orient":"top","values":[-1,-0.5,0,0.5,1],"labels":false,"title":null}},"y":{"field":"y","type":"quantitative","scale":{"domain":[8,52],"nice":false},"axis":{"orient":"right","values":[10,20,30,40,50],"labels":false,"title":null}}}},
{"data":{"name":"pts"},"transform":[{"filter":"datum.p==14"}],"mark":{"type":"errorbar","ticks":true,"size":4,"thickness":2,"color":"#000000"},"encoding":{"x":{"field":"x","type":"quantitative","axis":null},"y":{"field":"y","type":"quantitative","axis":null},"yError":{"field":"e"}}},
{"data":{"name":"fit"},"transform":[{"filter":"datum.p==14"}],"mark":{"type":"line","color":"#ff0000","strokeWidth":4},"encoding":{"x":{"field":"x","type":"quantitative","axis":{"orient":"bottom","values":[-1,-0.5,0,0.5,1],"labelExpr":"''+datum.value","title":"cosϑ","titleX":174,"titleY":114,"titleAlign":"center","titleBaseline":"alphabetic"}},"y":{"field":"y","type":"quantitative","axis":{"orient":"left","values":[10,20,30,40,50],"labels":false,"title":null}}}},
{"data":{"name":"fit"},"transform":[{"filter":"datum.p==14"}],"mark":{"type":"point","opacity":0},"encoding":{"x":{"field":"x","type":"quantitative","axis":{"orient":"bottom","values":[-1.1,-0.9,-0.8,-0.7,-0.6,-0.4,-0.3,-0.2,-0.1,0.1,0.2,0.3,0.4,0.6,0.7,0.8,0.9,1.1],"tickSize":-4,"labels":false,"domain":false,"title":null}},"y":{"field":"y","type":"quantitative","axis":{"orient":"left","values":[12,14,16,18,22,24,26,28,32,34,36,38,42,44,46,48],"tickSize":-6,"labels":false,"domain":false,"title":null}}}},
{"data":{"name":"fit"},"transform":[{"filter":"datum.p==14"}],"mark":{"type":"point","opacity":0},"encoding":{"x":{"field":"x","type":"quantitative","axis":{"orient":"top","values":[-1.1,-0.9,-0.8,-0.7,-0.6,-0.4,-0.3,-0.2,-0.1,0.1,0.2,0.3,0.4,0.6,0.7,0.8,0.9,1.1],"tickSize":-4,"labels":false,"domain":false,"title":null}},"y":{"field":"y","type":"quantitative","axis":{"orient":"right","values":[12,14,16,18,22,24,26,28,32,34,36,38,42,44,46,48],"tickSize":-6,"labels":false,"domain":false,"title":null}}}}
]},
{"width":339.2,"height":283.4,"title":{"text":"χ²/ndf = 41.94/36 = 1.17","subtitle":"Q = 15.01 MeV"},"resolve":{"axis":{"x":"independent","y":"independent"}},"layer":[
{"data":{"name":"sim"},"mark":{"type":"square","size":22,"opacity":1},"encoding":{"x":{"field":"x","type":"quantitative","scale":{"domain":[-1.2,1.2],"nice":false},"axis":{"orient":"bottom","values":[-1,-0.5,0,0.5,1],"labelExpr":"''+datum.value","title":null}},"y":{"field":"y","type":"quantitative","scale":{"domain":[8,52],"nice":false},"axis":{"orient":"left","values":[10,20,30,40,50],"labels":false,"title":null}},"color":{"field":"g","type":"nominal","scale":{"domain":["r","o"],"range":["#ff1a1a","#ffc000"]},"legend":null}}},
{"data":{"name":"pts"},"transform":[{"filter":"datum.p==15"}],"mark":{"type":"tick","orient":"horizontal","size":7,"thickness":2,"color":"#000000"},"encoding":{"x":{"field":"x","type":"quantitative","axis":{"orient":"top","values":[-1,-0.5,0,0.5,1],"labels":false,"title":null}},"y":{"field":"y","type":"quantitative","axis":{"orient":"right","values":[10,20,30,40,50],"labels":false,"title":null}}}},
{"data":{"name":"pts"},"transform":[{"filter":"datum.p==15"}],"mark":{"type":"errorbar","ticks":true,"size":4,"thickness":2,"color":"#000000"},"encoding":{"x":{"field":"x","type":"quantitative","axis":null},"y":{"field":"y","type":"quantitative","axis":null},"yError":{"field":"e"}}},
{"data":{"name":"curve"},"mark":{"type":"line","color":"#00e600","strokeWidth":7,"interpolate":"monotone"},"encoding":{"x":{"field":"x","type":"quantitative","axis":{"orient":"bottom","values":[-1.1,-0.9,-0.8,-0.7,-0.6,-0.4,-0.3,-0.2,-0.1,0.1,0.2,0.3,0.4,0.6,0.7,0.8,0.9,1.1],"tickSize":-4,"labels":false,"domain":false,"title":null}},"y":{"field":"y","type":"quantitative","axis":{"orient":"left","values":[12,14,16,18,22,24,26,28,32,34,36,38,42,44,46,48],"tickSize":-6,"labels":false,"domain":false,"title":null}}}},
{"data":{"name":"curve"},"mark":{"type":"point","opacity":0},"encoding":{"x":{"field":"x","type":"quantitative","axis":{"orient":"top","values":[-1.1,-0.9,-0.8,-0.7,-0.6,-0.4,-0.3,-0.2,-0.1,0.1,0.2,0.3,0.4,0.6,0.7,0.8,0.9,1.1],"tickSize":-4,"labels":false,"domain":false,"title":null}},"y":{"field":"y","type":"quantitative","axis":{"orient":"right","values":[12,14,16,18,22,24,26,28,32,34,36,38,42,44,46,48],"tickSize":-6,"labels":false,"domain":false,"title":null}}}}
]}
]
}
